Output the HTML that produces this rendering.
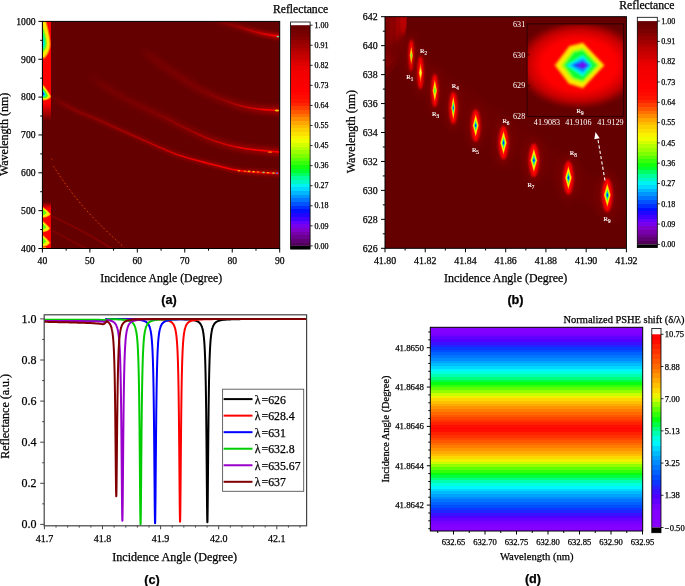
<!DOCTYPE html><html><head><meta charset="utf-8"><title>Figure</title><style>html,body{margin:0;padding:0;background:#fff;width:685px;height:586px;overflow:hidden;}svg{display:block;will-change:transform;}</style></head><body><svg width="685" height="586" viewBox="0 0 685 586"><defs><clipPath id="clipA"><rect x="42.40" y="21.40" width="237.30" height="227.10"/></clipPath><filter id="blur1" x="-50%" y="-50%" width="200%" height="200%"><feGaussianBlur stdDeviation="1"/></filter><filter id="blur2" x="-50%" y="-50%" width="200%" height="200%"><feGaussianBlur stdDeviation="2"/></filter><filter id="blur05" x="-50%" y="-50%" width="200%" height="200%"><feGaussianBlur stdDeviation="0.6"/></filter><filter id="blur15" x="-50%" y="-50%" width="200%" height="200%"><feGaussianBlur stdDeviation="1.5"/></filter><filter id="blur3" x="-50%" y="-50%" width="200%" height="200%"><feGaussianBlur stdDeviation="3"/></filter><linearGradient id="stripTop" x1="0" y1="0" x2="0" y2="1"><stop offset="0" stop-color="#ff0000"/><stop offset="0.82" stop-color="#ff0000"/><stop offset="1" stop-color="#650000"/></linearGradient><linearGradient id="stripBot" x1="0" y1="0" x2="0" y2="1"><stop offset="0" stop-color="#650000"/><stop offset="0.14" stop-color="#ff0000"/><stop offset="1" stop-color="#ff0000"/></linearGradient><linearGradient id="cg1" gradientUnits="userSpaceOnUse" x1="51.2" y1="0" x2="281.0" y2="0"><stop offset="0" stop-color="#900000" stop-opacity="0.0"/><stop offset="0.06" stop-color="#900000" stop-opacity="0.55"/><stop offset="0.5" stop-color="#a00000" stop-opacity="0.6"/><stop offset="1" stop-color="#c00000" stop-opacity="0.7"/></linearGradient><linearGradient id="cg2" gradientUnits="userSpaceOnUse" x1="51.2" y1="0" x2="281.0" y2="0"><stop offset="0" stop-color="#a00000" stop-opacity="0.0"/><stop offset="0.1" stop-color="#a00000" stop-opacity="0.35"/><stop offset="0.4" stop-color="#c00000" stop-opacity="0.8"/><stop offset="0.65" stop-color="#f00000" stop-opacity="1"/><stop offset="0.85" stop-color="#ff0000" stop-opacity="1"/><stop offset="1" stop-color="#ff0000" stop-opacity="1"/></linearGradient><linearGradient id="cg3" gradientUnits="userSpaceOnUse" x1="86.8" y1="0" x2="281.0" y2="0"><stop offset="0" stop-color="#800000" stop-opacity="0.0"/><stop offset="0.08" stop-color="#800000" stop-opacity="0.55"/><stop offset="0.5" stop-color="#900000" stop-opacity="0.6"/><stop offset="1" stop-color="#c00000" stop-opacity="0.7"/></linearGradient><linearGradient id="cg4" gradientUnits="userSpaceOnUse" x1="86.8" y1="0" x2="281.0" y2="0"><stop offset="0" stop-color="#800000" stop-opacity="0.0"/><stop offset="0.3" stop-color="#900000" stop-opacity="0.3"/><stop offset="0.6" stop-color="#c00000" stop-opacity="0.8"/><stop offset="0.85" stop-color="#ff0000" stop-opacity="1"/><stop offset="1" stop-color="#ff0000" stop-opacity="1"/></linearGradient><linearGradient id="cg5" gradientUnits="userSpaceOnUse" x1="140.0" y1="0" x2="281.0" y2="0"><stop offset="0" stop-color="#800000" stop-opacity="0.0"/><stop offset="0.08" stop-color="#800000" stop-opacity="0.6"/><stop offset="0.6" stop-color="#900000" stop-opacity="0.6"/><stop offset="1" stop-color="#c00000" stop-opacity="0.7"/></linearGradient><linearGradient id="cg6" gradientUnits="userSpaceOnUse" x1="140.0" y1="0" x2="281.0" y2="0"><stop offset="0" stop-color="#700000" stop-opacity="0.0"/><stop offset="0.45" stop-color="#900000" stop-opacity="0.3"/><stop offset="0.75" stop-color="#d00000" stop-opacity="0.9"/><stop offset="0.9" stop-color="#ff0000" stop-opacity="1"/><stop offset="1" stop-color="#ff0000" stop-opacity="1"/></linearGradient><linearGradient id="cg7" gradientUnits="userSpaceOnUse" x1="210.0" y1="0" x2="281.0" y2="0"><stop offset="0" stop-color="#800000" stop-opacity="0.0"/><stop offset="0.2" stop-color="#800000" stop-opacity="0.7"/><stop offset="0.6" stop-color="#a00000" stop-opacity="0.8"/><stop offset="1" stop-color="#c00000" stop-opacity="0.9"/></linearGradient><linearGradient id="cg8" gradientUnits="userSpaceOnUse" x1="210.0" y1="0" x2="281.0" y2="0"><stop offset="0" stop-color="#900000" stop-opacity="0.0"/><stop offset="0.35" stop-color="#a00000" stop-opacity="0.6"/><stop offset="0.75" stop-color="#d80000" stop-opacity="1"/><stop offset="1" stop-color="#ff0000" stop-opacity="1"/></linearGradient><linearGradient id="cbAB" x1="0" y1="0" x2="0" y2="1"><stop offset="0.0000" stop-color="#690000"/><stop offset="0.0175" stop-color="#690000"/><stop offset="0.0175" stop-color="#720000"/><stop offset="0.0350" stop-color="#720000"/><stop offset="0.0350" stop-color="#7b0000"/><stop offset="0.0525" stop-color="#7b0000"/><stop offset="0.0525" stop-color="#870000"/><stop offset="0.0675" stop-color="#870000"/><stop offset="0.0675" stop-color="#940000"/><stop offset="0.0850" stop-color="#940000"/><stop offset="0.0850" stop-color="#a10000"/><stop offset="0.1025" stop-color="#a10000"/><stop offset="0.1025" stop-color="#af0000"/><stop offset="0.1175" stop-color="#af0000"/><stop offset="0.1175" stop-color="#bc0000"/><stop offset="0.1350" stop-color="#bc0000"/><stop offset="0.1350" stop-color="#c70000"/><stop offset="0.1525" stop-color="#c70000"/><stop offset="0.1525" stop-color="#d30000"/><stop offset="0.1675" stop-color="#d30000"/><stop offset="0.1675" stop-color="#df0000"/><stop offset="0.1850" stop-color="#df0000"/><stop offset="0.1850" stop-color="#ea0000"/><stop offset="0.2025" stop-color="#ea0000"/><stop offset="0.2025" stop-color="#f10000"/><stop offset="0.2175" stop-color="#f10000"/><stop offset="0.2175" stop-color="#f40000"/><stop offset="0.2350" stop-color="#f40000"/><stop offset="0.2350" stop-color="#f60000"/><stop offset="0.2525" stop-color="#f60000"/><stop offset="0.2525" stop-color="#f90000"/><stop offset="0.2675" stop-color="#f90000"/><stop offset="0.2675" stop-color="#fb0000"/><stop offset="0.2850" stop-color="#fb0000"/><stop offset="0.2850" stop-color="#fe0000"/><stop offset="0.3025" stop-color="#fe0000"/><stop offset="0.3025" stop-color="#ff0400"/><stop offset="0.3175" stop-color="#ff0400"/><stop offset="0.3175" stop-color="#ff0c00"/><stop offset="0.3350" stop-color="#ff0c00"/><stop offset="0.3350" stop-color="#ff1400"/><stop offset="0.3525" stop-color="#ff1400"/><stop offset="0.3525" stop-color="#ff2500"/><stop offset="0.3675" stop-color="#ff2500"/><stop offset="0.3675" stop-color="#ff3e00"/><stop offset="0.3850" stop-color="#ff3e00"/><stop offset="0.3850" stop-color="#ff5700"/><stop offset="0.4025" stop-color="#ff5700"/><stop offset="0.4025" stop-color="#ff7100"/><stop offset="0.4175" stop-color="#ff7100"/><stop offset="0.4175" stop-color="#ff8c00"/><stop offset="0.4350" stop-color="#ff8c00"/><stop offset="0.4350" stop-color="#ffa700"/><stop offset="0.4525" stop-color="#ffa700"/><stop offset="0.4525" stop-color="#febd00"/><stop offset="0.4675" stop-color="#febd00"/><stop offset="0.4675" stop-color="#fccf00"/><stop offset="0.4850" stop-color="#fccf00"/><stop offset="0.4850" stop-color="#fbe100"/><stop offset="0.5025" stop-color="#fbe100"/><stop offset="0.5025" stop-color="#f9f300"/><stop offset="0.5175" stop-color="#f9f300"/><stop offset="0.5175" stop-color="#efff00"/><stop offset="0.5350" stop-color="#efff00"/><stop offset="0.5350" stop-color="#d3ff00"/><stop offset="0.5500" stop-color="#d3ff00"/><stop offset="0.5500" stop-color="#b6ff00"/><stop offset="0.5675" stop-color="#b6ff00"/><stop offset="0.5675" stop-color="#9aff00"/><stop offset="0.5850" stop-color="#9aff00"/><stop offset="0.5850" stop-color="#7cff00"/><stop offset="0.6025" stop-color="#7cff00"/><stop offset="0.6025" stop-color="#59ff05"/><stop offset="0.6175" stop-color="#59ff05"/><stop offset="0.6175" stop-color="#35ff09"/><stop offset="0.6350" stop-color="#35ff09"/><stop offset="0.6350" stop-color="#12ff0e"/><stop offset="0.6525" stop-color="#12ff0e"/><stop offset="0.6525" stop-color="#00ff2c"/><stop offset="0.6675" stop-color="#00ff2c"/><stop offset="0.6675" stop-color="#00ff65"/><stop offset="0.6850" stop-color="#00ff65"/><stop offset="0.6850" stop-color="#00fe9c"/><stop offset="0.7025" stop-color="#00fe9c"/><stop offset="0.7025" stop-color="#00f8c7"/><stop offset="0.7175" stop-color="#00f8c7"/><stop offset="0.7175" stop-color="#00f2f2"/><stop offset="0.7350" stop-color="#00f2f2"/><stop offset="0.7350" stop-color="#00d9ff"/><stop offset="0.7525" stop-color="#00d9ff"/><stop offset="0.7525" stop-color="#00b7ff"/><stop offset="0.7675" stop-color="#00b7ff"/><stop offset="0.7675" stop-color="#0096ff"/><stop offset="0.7850" stop-color="#0096ff"/><stop offset="0.7850" stop-color="#0075ff"/><stop offset="0.8000" stop-color="#0075ff"/><stop offset="0.8000" stop-color="#0053ff"/><stop offset="0.8175" stop-color="#0053ff"/><stop offset="0.8175" stop-color="#0030ff"/><stop offset="0.8350" stop-color="#0030ff"/><stop offset="0.8350" stop-color="#030fff"/><stop offset="0.8525" stop-color="#030fff"/><stop offset="0.8525" stop-color="#2006ff"/><stop offset="0.8675" stop-color="#2006ff"/><stop offset="0.8675" stop-color="#3f00ff"/><stop offset="0.8850" stop-color="#3f00ff"/><stop offset="0.8850" stop-color="#6200ff"/><stop offset="0.9000" stop-color="#6200ff"/><stop offset="0.9000" stop-color="#7700ed"/><stop offset="0.9175" stop-color="#7700ed"/><stop offset="0.9175" stop-color="#7e00ca"/><stop offset="0.9350" stop-color="#7e00ca"/><stop offset="0.9350" stop-color="#7800ac"/><stop offset="0.9525" stop-color="#7800ac"/><stop offset="0.9525" stop-color="#6c0090"/><stop offset="0.9675" stop-color="#6c0090"/><stop offset="0.9675" stop-color="#5f0074"/><stop offset="0.9850" stop-color="#5f0074"/><stop offset="0.9850" stop-color="#500058"/><stop offset="1.0000" stop-color="#500058"/></linearGradient><clipPath id="clipB"><rect x="385.00" y="16.70" width="241.40" height="231.60"/></clipPath><linearGradient id="ulg" gradientUnits="userSpaceOnUse" x1="385" y1="0" x2="406.5" y2="0"><stop offset="0" stop-color="#780000"/><stop offset="0.6" stop-color="#8a0000"/><stop offset="0.85" stop-color="#a80000"/><stop offset="1" stop-color="#c00000"/></linearGradient><clipPath id="clipI"><rect x="527.10" y="23.90" width="96.20" height="92.50"/></clipPath><radialGradient id="insetGlow" cx="0.5" cy="0.5" r="0.5"><stop offset="0" stop-color="#ff0000"/><stop offset="0.6" stop-color="#ff0000"/><stop offset="0.82" stop-color="#c80000"/><stop offset="1" stop-color="#6c0000"/></radialGradient><clipPath id="clipC"><rect x="44.20" y="314.80" width="262.40" height="211.00"/></clipPath><linearGradient id="gD" x1="0" y1="0" x2="0" y2="1"><stop offset="0.0000" stop-color="#8700ff"/><stop offset="0.0050" stop-color="#8700ff"/><stop offset="0.0050" stop-color="#8400ff"/><stop offset="0.0183" stop-color="#8400ff"/><stop offset="0.0183" stop-color="#8100ff"/><stop offset="0.0317" stop-color="#8100ff"/><stop offset="0.0317" stop-color="#7500ff"/><stop offset="0.0450" stop-color="#7500ff"/><stop offset="0.0450" stop-color="#6200ff"/><stop offset="0.0583" stop-color="#6200ff"/><stop offset="0.0583" stop-color="#4f00ff"/><stop offset="0.0717" stop-color="#4f00ff"/><stop offset="0.0717" stop-color="#3910ff"/><stop offset="0.0850" stop-color="#3910ff"/><stop offset="0.0850" stop-color="#2224ff"/><stop offset="0.0967" stop-color="#2224ff"/><stop offset="0.0967" stop-color="#0b37ff"/><stop offset="0.1100" stop-color="#0b37ff"/><stop offset="0.1100" stop-color="#004cff"/><stop offset="0.1233" stop-color="#004cff"/><stop offset="0.1233" stop-color="#0061ff"/><stop offset="0.1367" stop-color="#0061ff"/><stop offset="0.1367" stop-color="#0076ff"/><stop offset="0.1500" stop-color="#0076ff"/><stop offset="0.1500" stop-color="#008cff"/><stop offset="0.1633" stop-color="#008cff"/><stop offset="0.1633" stop-color="#00a4ff"/><stop offset="0.1767" stop-color="#00a4ff"/><stop offset="0.1767" stop-color="#00bcff"/><stop offset="0.1900" stop-color="#00bcff"/><stop offset="0.1900" stop-color="#00d7ff"/><stop offset="0.2033" stop-color="#00d7ff"/><stop offset="0.2033" stop-color="#00f6ff"/><stop offset="0.2167" stop-color="#00f6ff"/><stop offset="0.2167" stop-color="#00ffde"/><stop offset="0.2300" stop-color="#00ffde"/><stop offset="0.2300" stop-color="#00ffb0"/><stop offset="0.2433" stop-color="#00ffb0"/><stop offset="0.2433" stop-color="#00ff7c"/><stop offset="0.2567" stop-color="#00ff7c"/><stop offset="0.2567" stop-color="#00ff43"/><stop offset="0.2700" stop-color="#00ff43"/><stop offset="0.2700" stop-color="#05ff0f"/><stop offset="0.2817" stop-color="#05ff0f"/><stop offset="0.2817" stop-color="#32ff09"/><stop offset="0.2950" stop-color="#32ff09"/><stop offset="0.2950" stop-color="#5eff02"/><stop offset="0.3083" stop-color="#5eff02"/><stop offset="0.3083" stop-color="#92ff00"/><stop offset="0.3217" stop-color="#92ff00"/><stop offset="0.3217" stop-color="#cbff00"/><stop offset="0.3350" stop-color="#cbff00"/><stop offset="0.3350" stop-color="#eef200"/><stop offset="0.3483" stop-color="#eef200"/><stop offset="0.3483" stop-color="#fbd800"/><stop offset="0.3617" stop-color="#fbd800"/><stop offset="0.3617" stop-color="#ffc000"/><stop offset="0.3750" stop-color="#ffc000"/><stop offset="0.3750" stop-color="#ffaa00"/><stop offset="0.3883" stop-color="#ffaa00"/><stop offset="0.3883" stop-color="#ff9300"/><stop offset="0.4017" stop-color="#ff9300"/><stop offset="0.4017" stop-color="#ff7e00"/><stop offset="0.4150" stop-color="#ff7e00"/><stop offset="0.4150" stop-color="#ff6900"/><stop offset="0.4283" stop-color="#ff6900"/><stop offset="0.4283" stop-color="#ff5700"/><stop offset="0.4417" stop-color="#ff5700"/><stop offset="0.4417" stop-color="#ff4500"/><stop offset="0.4550" stop-color="#ff4500"/><stop offset="0.4550" stop-color="#ff3200"/><stop offset="0.4667" stop-color="#ff3200"/><stop offset="0.4667" stop-color="#ff2000"/><stop offset="0.4800" stop-color="#ff2000"/><stop offset="0.4800" stop-color="#ff0d00"/><stop offset="0.4933" stop-color="#ff0d00"/><stop offset="0.4933" stop-color="#ff0300"/><stop offset="0.5017" stop-color="#ff0300"/><stop offset="0.5017" stop-color="#ff0d00"/><stop offset="0.5150" stop-color="#ff0d00"/><stop offset="0.5150" stop-color="#ff2000"/><stop offset="0.5283" stop-color="#ff2000"/><stop offset="0.5283" stop-color="#ff3200"/><stop offset="0.5417" stop-color="#ff3200"/><stop offset="0.5417" stop-color="#ff4500"/><stop offset="0.5550" stop-color="#ff4500"/><stop offset="0.5550" stop-color="#ff5700"/><stop offset="0.5683" stop-color="#ff5700"/><stop offset="0.5683" stop-color="#ff6900"/><stop offset="0.5800" stop-color="#ff6900"/><stop offset="0.5800" stop-color="#ff7e00"/><stop offset="0.5933" stop-color="#ff7e00"/><stop offset="0.5933" stop-color="#ff9300"/><stop offset="0.6067" stop-color="#ff9300"/><stop offset="0.6067" stop-color="#ffaa00"/><stop offset="0.6200" stop-color="#ffaa00"/><stop offset="0.6200" stop-color="#ffc000"/><stop offset="0.6333" stop-color="#ffc000"/><stop offset="0.6333" stop-color="#fbd800"/><stop offset="0.6467" stop-color="#fbd800"/><stop offset="0.6467" stop-color="#eef200"/><stop offset="0.6600" stop-color="#eef200"/><stop offset="0.6600" stop-color="#cbff00"/><stop offset="0.6733" stop-color="#cbff00"/><stop offset="0.6733" stop-color="#92ff00"/><stop offset="0.6867" stop-color="#92ff00"/><stop offset="0.6867" stop-color="#5eff02"/><stop offset="0.7000" stop-color="#5eff02"/><stop offset="0.7000" stop-color="#32ff09"/><stop offset="0.7133" stop-color="#32ff09"/><stop offset="0.7133" stop-color="#05ff0f"/><stop offset="0.7267" stop-color="#05ff0f"/><stop offset="0.7267" stop-color="#00ff43"/><stop offset="0.7400" stop-color="#00ff43"/><stop offset="0.7400" stop-color="#00ff7c"/><stop offset="0.7517" stop-color="#00ff7c"/><stop offset="0.7517" stop-color="#00ffb0"/><stop offset="0.7650" stop-color="#00ffb0"/><stop offset="0.7650" stop-color="#00ffde"/><stop offset="0.7783" stop-color="#00ffde"/><stop offset="0.7783" stop-color="#00f6ff"/><stop offset="0.7917" stop-color="#00f6ff"/><stop offset="0.7917" stop-color="#00d7ff"/><stop offset="0.8050" stop-color="#00d7ff"/><stop offset="0.8050" stop-color="#00bcff"/><stop offset="0.8183" stop-color="#00bcff"/><stop offset="0.8183" stop-color="#00a4ff"/><stop offset="0.8317" stop-color="#00a4ff"/><stop offset="0.8317" stop-color="#008cff"/><stop offset="0.8450" stop-color="#008cff"/><stop offset="0.8450" stop-color="#0076ff"/><stop offset="0.8583" stop-color="#0076ff"/><stop offset="0.8583" stop-color="#0061ff"/><stop offset="0.8717" stop-color="#0061ff"/><stop offset="0.8717" stop-color="#004cff"/><stop offset="0.8850" stop-color="#004cff"/><stop offset="0.8850" stop-color="#0b37ff"/><stop offset="0.8983" stop-color="#0b37ff"/><stop offset="0.8983" stop-color="#2224ff"/><stop offset="0.9117" stop-color="#2224ff"/><stop offset="0.9117" stop-color="#3910ff"/><stop offset="0.9250" stop-color="#3910ff"/><stop offset="0.9250" stop-color="#4f00ff"/><stop offset="0.9367" stop-color="#4f00ff"/><stop offset="0.9367" stop-color="#6200ff"/><stop offset="0.9500" stop-color="#6200ff"/><stop offset="0.9500" stop-color="#7500ff"/><stop offset="0.9633" stop-color="#7500ff"/><stop offset="0.9633" stop-color="#8100ff"/><stop offset="0.9767" stop-color="#8100ff"/><stop offset="0.9767" stop-color="#8400ff"/><stop offset="0.9900" stop-color="#8400ff"/><stop offset="0.9900" stop-color="#8700ff"/><stop offset="1.0000" stop-color="#8700ff"/></linearGradient><linearGradient id="cbD" x1="0" y1="0" x2="0" y2="1"><stop offset="0.0000" stop-color="#ff0300"/><stop offset="0.0275" stop-color="#ff0300"/><stop offset="0.0275" stop-color="#ff0d00"/><stop offset="0.0525" stop-color="#ff0d00"/><stop offset="0.0525" stop-color="#ff2000"/><stop offset="0.0775" stop-color="#ff2000"/><stop offset="0.0775" stop-color="#ff3200"/><stop offset="0.1025" stop-color="#ff3200"/><stop offset="0.1025" stop-color="#ff4500"/><stop offset="0.1275" stop-color="#ff4500"/><stop offset="0.1275" stop-color="#ff5700"/><stop offset="0.1525" stop-color="#ff5700"/><stop offset="0.1525" stop-color="#ff6900"/><stop offset="0.1775" stop-color="#ff6900"/><stop offset="0.1775" stop-color="#ff7e00"/><stop offset="0.2025" stop-color="#ff7e00"/><stop offset="0.2025" stop-color="#ff9300"/><stop offset="0.2275" stop-color="#ff9300"/><stop offset="0.2275" stop-color="#ffaa00"/><stop offset="0.2525" stop-color="#ffaa00"/><stop offset="0.2525" stop-color="#ffc000"/><stop offset="0.2775" stop-color="#ffc000"/><stop offset="0.2775" stop-color="#fbd800"/><stop offset="0.3025" stop-color="#fbd800"/><stop offset="0.3025" stop-color="#eef200"/><stop offset="0.3275" stop-color="#eef200"/><stop offset="0.3275" stop-color="#cbff00"/><stop offset="0.3525" stop-color="#cbff00"/><stop offset="0.3525" stop-color="#92ff00"/><stop offset="0.3775" stop-color="#92ff00"/><stop offset="0.3775" stop-color="#5eff02"/><stop offset="0.4025" stop-color="#5eff02"/><stop offset="0.4025" stop-color="#32ff09"/><stop offset="0.4275" stop-color="#32ff09"/><stop offset="0.4275" stop-color="#05ff0f"/><stop offset="0.4525" stop-color="#05ff0f"/><stop offset="0.4525" stop-color="#00ff43"/><stop offset="0.4775" stop-color="#00ff43"/><stop offset="0.4775" stop-color="#00ff7c"/><stop offset="0.5025" stop-color="#00ff7c"/><stop offset="0.5025" stop-color="#00ffb0"/><stop offset="0.5275" stop-color="#00ffb0"/><stop offset="0.5275" stop-color="#00ffde"/><stop offset="0.5500" stop-color="#00ffde"/><stop offset="0.5500" stop-color="#00f6ff"/><stop offset="0.5775" stop-color="#00f6ff"/><stop offset="0.5775" stop-color="#00d7ff"/><stop offset="0.6025" stop-color="#00d7ff"/><stop offset="0.6025" stop-color="#00bcff"/><stop offset="0.6275" stop-color="#00bcff"/><stop offset="0.6275" stop-color="#00a4ff"/><stop offset="0.6525" stop-color="#00a4ff"/><stop offset="0.6525" stop-color="#008cff"/><stop offset="0.6750" stop-color="#008cff"/><stop offset="0.6750" stop-color="#0076ff"/><stop offset="0.7025" stop-color="#0076ff"/><stop offset="0.7025" stop-color="#0061ff"/><stop offset="0.7275" stop-color="#0061ff"/><stop offset="0.7275" stop-color="#004cff"/><stop offset="0.7525" stop-color="#004cff"/><stop offset="0.7525" stop-color="#0b37ff"/><stop offset="0.7775" stop-color="#0b37ff"/><stop offset="0.7775" stop-color="#2224ff"/><stop offset="0.8025" stop-color="#2224ff"/><stop offset="0.8025" stop-color="#3910ff"/><stop offset="0.8275" stop-color="#3910ff"/><stop offset="0.8275" stop-color="#4f00ff"/><stop offset="0.8525" stop-color="#4f00ff"/><stop offset="0.8525" stop-color="#6200ff"/><stop offset="0.8775" stop-color="#6200ff"/><stop offset="0.8775" stop-color="#7500ff"/><stop offset="0.9025" stop-color="#7500ff"/><stop offset="0.9025" stop-color="#8100ff"/><stop offset="0.9275" stop-color="#8100ff"/><stop offset="0.9275" stop-color="#8400ff"/><stop offset="0.9525" stop-color="#8400ff"/><stop offset="0.9525" stop-color="#8700ff"/><stop offset="0.9775" stop-color="#8700ff"/><stop offset="0.9775" stop-color="#8a00ff"/><stop offset="1.0000" stop-color="#8a00ff"/></linearGradient></defs><rect x="42.40" y="21.40" width="237.30" height="227.10" fill="#650000" stroke="none" stroke-width="1" />
<g clip-path="url(#clipA)">
<rect x="42.40" y="21.40" width="8.60" height="99.60" fill="url(#stripTop)" stroke="none" stroke-width="1" />
<rect x="42.40" y="202.00" width="8.60" height="46.50" fill="url(#stripBot)" stroke="none" stroke-width="1" />
<g filter="url(#blur05)">
<path d="M42.4,19 L46,19 C47.6,26 50.6,36 50.6,44 C50.6,50 48,55.5 44.8,58.5 L42.4,58.5 Z" fill="#ff7a00"/>
<path d="M42.4,19 L44.9,19 C46.6,27 49.5,37 49.5,44 C49.5,49 47.2,54 44.2,57 L42.4,57 Z" fill="#ffe800"/>
<path d="M42.4,25 C44.4,31 46.8,38 46.8,43.5 C46.8,47 45.3,50.5 42.4,53 Z" fill="#60ff20"/>
<path d="M42.4,31 C43.8,35 45.3,39.5 45.3,43.5 C45.3,46 44.2,48.5 42.4,50 Z" fill="#00ff90"/>
<path d="M42.4,36 C43.3,39 44.1,41.5 44.1,43.5 C44.1,45.5 43.4,47 42.4,48 Z" fill="#00d8ff"/>
<path d="M42.4,83.8 C45,86.8 49,91.8 51.2,96.6 C50.2,99.2 47,100.6 42.4,100.6 Z" fill="#ff8000"/>
<path d="M42.4,85.3 C45,88 48.5,92.5 50.2,96.4 C49.3,98.4 46.5,99.5 42.4,99.5 Z" fill="#ffee00"/>
<path d="M42.4,87.2 C44.6,89.8 47,93 48,95.9 C47.2,97.4 45,98.2 42.4,98.2 Z" fill="#40ff20"/>
<path d="M42.4,89.2 C44,91.3 45.4,93.3 45.9,95.3 C45.2,96.4 43.9,96.8 42.4,96.8 Z" fill="#00ffe0"/>
<path d="M42.4,90.8 C43.5,92.2 44.4,93.6 44.7,95 C44,95.6 43.2,95.8 42.4,95.8 Z" fill="#0050ff"/>
<path d="M42.4,206.4 C45,208.6 48.9,211.2 50.8,214.2 C48.9,216.9 45,217.9 42.4,217.9 Z" fill="#ff8a00"/>
<path d="M42.4,207.6 C45,209.6 48.4,211.7 49.9,214.2 C48.4,216.4 45,216.9 42.4,216.9 Z" fill="#ffee00"/>
<path d="M42.4,208.79999999999998 C44,210.1 45.525,211.7 46.525,212.7 C45.525,214.7 44,215.2 42.4,215.39999999999998 Z" fill="#60ff10"/>
<path d="M42.4,220.60000000000002 C45,222.8 48.4,225.6 50.3,228.6 C48.4,231.4 45,232.4 42.4,232.4 Z" fill="#ff8a00"/>
<path d="M42.4,221.8 C45,223.8 47.9,226.1 49.4,228.6 C47.9,230.9 45,231.4 42.4,231.4 Z" fill="#ffee00"/>
<path d="M42.4,223.0 C44,224.3 45.25,226.1 46.25,227.1 C45.25,229.1 44,229.6 42.4,229.79999999999998 Z" fill="#60ff10"/>
<path d="M42.4,234.60000000000002 C45,236.8 48.4,239.8 50.3,242.8 C48.4,245.8 45,246.8 42.4,246.8 Z" fill="#ff8a00"/>
<path d="M42.4,235.8 C45,237.8 47.9,240.3 49.4,242.8 C47.9,245.3 45,245.8 42.4,245.8 Z" fill="#ffee00"/>
<path d="M42.4,237.0 C44,238.3 45.25,240.3 46.25,241.3 C45.25,243.3 44,243.8 42.4,244.0 Z" fill="#60ff10"/>
</g>
<ellipse cx="43.5" cy="248.5" rx="3" ry="2" fill="#ff9000" filter="url(#blur05)"/>
<path d="M51.2,97.0 L52.5,97.7 L54.2,98.7 L56.2,99.9 L58.4,101.1 L60.8,102.5 L63.4,104.0 L66.0,105.4 L68.5,106.8 L71.0,108.1 L73.4,109.3 L75.7,110.4 L78.0,111.4 L80.3,112.4 L82.6,113.4 L85.0,114.4 L87.3,115.3 L89.7,116.3 L92.0,117.2 L94.4,118.2 L96.7,119.2 L99.0,120.2 L101.4,121.3 L103.8,122.3 L106.1,123.4 L108.5,124.5 L110.8,125.6 L113.2,126.6 L115.5,127.7 L117.8,128.7 L120.0,129.7 L122.2,130.7 L124.4,131.6 L126.5,132.6 L128.7,133.5 L130.8,134.5 L132.9,135.4 L134.9,136.3 L137.0,137.2 L139.0,138.1 L141.0,139.0 L143.0,139.9 L144.9,140.8 L146.8,141.6 L148.7,142.5 L150.6,143.3 L152.4,144.2 L154.3,145.0 L156.2,145.8 L158.1,146.7 L160.0,147.5 L161.9,148.3 L163.8,149.1 L165.6,149.9 L167.4,150.7 L169.3,151.5 L171.2,152.3 L173.2,153.1 L175.3,153.9 L177.6,154.7 L180.0,155.5 L182.6,156.3 L185.5,157.2 L188.4,158.1 L191.5,158.9 L194.7,159.8 L197.9,160.7 L201.2,161.6 L204.4,162.4 L207.6,163.2 L210.7,164.0 L213.7,164.8 L216.7,165.5 L219.6,166.3 L222.5,167.1 L225.4,167.8 L228.4,168.5 L231.5,169.2 L234.6,169.8 L237.9,170.4 L241.3,170.9 L245.1,171.4 L249.3,171.8 L253.8,172.1 L258.4,172.4 L263.1,172.7 L267.5,172.9 L271.7,173.1 L275.5,173.3 L278.6,173.5 L281.0,173.6" fill="none" stroke="url(#cg1)" stroke-width="5" stroke-linecap="round" stroke-linejoin="round" opacity="1" filter="url(#blur15)"/>
<path d="M51.2,97.0 L52.5,97.7 L54.2,98.7 L56.2,99.9 L58.4,101.1 L60.8,102.5 L63.4,104.0 L66.0,105.4 L68.5,106.8 L71.0,108.1 L73.4,109.3 L75.7,110.4 L78.0,111.4 L80.3,112.4 L82.6,113.4 L85.0,114.4 L87.3,115.3 L89.7,116.3 L92.0,117.2 L94.4,118.2 L96.7,119.2 L99.0,120.2 L101.4,121.3 L103.8,122.3 L106.1,123.4 L108.5,124.5 L110.8,125.6 L113.2,126.6 L115.5,127.7 L117.8,128.7 L120.0,129.7 L122.2,130.7 L124.4,131.6 L126.5,132.6 L128.7,133.5 L130.8,134.5 L132.9,135.4 L134.9,136.3 L137.0,137.2 L139.0,138.1 L141.0,139.0 L143.0,139.9 L144.9,140.8 L146.8,141.6 L148.7,142.5 L150.6,143.3 L152.4,144.2 L154.3,145.0 L156.2,145.8 L158.1,146.7 L160.0,147.5 L161.9,148.3 L163.8,149.1 L165.6,149.9 L167.4,150.7 L169.3,151.5 L171.2,152.3 L173.2,153.1 L175.3,153.9 L177.6,154.7 L180.0,155.5 L182.6,156.3 L185.5,157.2 L188.4,158.1 L191.5,158.9 L194.7,159.8 L197.9,160.7 L201.2,161.6 L204.4,162.4 L207.6,163.2 L210.7,164.0 L213.7,164.8 L216.7,165.5 L219.6,166.3 L222.5,167.1 L225.4,167.8 L228.4,168.5 L231.5,169.2 L234.6,169.8 L237.9,170.4 L241.3,170.9 L245.1,171.4 L249.3,171.8 L253.8,172.1 L258.4,172.4 L263.1,172.7 L267.5,172.9 L271.7,173.1 L275.5,173.3 L278.6,173.5 L281.0,173.6" fill="none" stroke="url(#cg2)" stroke-width="1.6" stroke-linecap="round" stroke-linejoin="round" opacity="1" filter="url(#blur05)"/>
<path d="M86.8,74.6 L88.2,75.5 L90.1,76.8 L92.2,78.2 L94.7,79.8 L97.3,81.6 L100.1,83.4 L102.9,85.3 L105.8,87.1 L108.6,88.9 L111.3,90.6 L113.8,92.1 L116.2,93.5 L118.6,94.8 L120.9,96.1 L123.2,97.4 L125.5,98.6 L127.8,99.8 L130.2,101.1 L132.6,102.3 L135.0,103.5 L137.5,104.7 L140.0,106.0 L142.7,107.3 L145.6,108.7 L148.6,110.2 L151.7,111.6 L154.9,113.1 L157.9,114.5 L160.9,115.9 L163.7,117.2 L166.4,118.4 L168.7,119.5 L170.7,120.5 L172.3,121.3 L173.4,121.9 L174.2,122.3 L174.8,122.6 L175.2,122.9 L175.5,123.2 L175.9,123.4 L176.5,123.7 L177.3,124.2 L178.4,124.7 L180.0,125.5 L182.0,126.5 L184.3,127.6 L186.8,128.8 L189.6,130.2 L192.5,131.6 L195.5,133.0 L198.6,134.4 L201.8,135.8 L204.8,137.2 L207.8,138.4 L210.7,139.5 L213.5,140.5 L216.1,141.4 L218.8,142.3 L221.5,143.1 L224.1,143.9 L226.8,144.7 L229.5,145.4 L232.3,146.0 L235.2,146.7 L238.2,147.3 L241.3,147.9 L244.7,148.5 L248.5,149.0 L252.5,149.5 L256.7,150.0 L261.0,150.4 L265.1,150.8 L269.1,151.2 L272.8,151.5 L276.1,151.8 L278.8,152.1 L281.0,152.3" fill="none" stroke="url(#cg3)" stroke-width="7" stroke-linecap="round" stroke-linejoin="round" opacity="1" filter="url(#blur2)"/>
<path d="M86.8,74.6 L88.2,75.5 L90.1,76.8 L92.2,78.2 L94.7,79.8 L97.3,81.6 L100.1,83.4 L102.9,85.3 L105.8,87.1 L108.6,88.9 L111.3,90.6 L113.8,92.1 L116.2,93.5 L118.6,94.8 L120.9,96.1 L123.2,97.4 L125.5,98.6 L127.8,99.8 L130.2,101.1 L132.6,102.3 L135.0,103.5 L137.5,104.7 L140.0,106.0 L142.7,107.3 L145.6,108.7 L148.6,110.2 L151.7,111.6 L154.9,113.1 L157.9,114.5 L160.9,115.9 L163.7,117.2 L166.4,118.4 L168.7,119.5 L170.7,120.5 L172.3,121.3 L173.4,121.9 L174.2,122.3 L174.8,122.6 L175.2,122.9 L175.5,123.2 L175.9,123.4 L176.5,123.7 L177.3,124.2 L178.4,124.7 L180.0,125.5 L182.0,126.5 L184.3,127.6 L186.8,128.8 L189.6,130.2 L192.5,131.6 L195.5,133.0 L198.6,134.4 L201.8,135.8 L204.8,137.2 L207.8,138.4 L210.7,139.5 L213.5,140.5 L216.1,141.4 L218.8,142.3 L221.5,143.1 L224.1,143.9 L226.8,144.7 L229.5,145.4 L232.3,146.0 L235.2,146.7 L238.2,147.3 L241.3,147.9 L244.7,148.5 L248.5,149.0 L252.5,149.5 L256.7,150.0 L261.0,150.4 L265.1,150.8 L269.1,151.2 L272.8,151.5 L276.1,151.8 L278.8,152.1 L281.0,152.3" fill="none" stroke="url(#cg4)" stroke-width="1.6" stroke-linecap="round" stroke-linejoin="round" opacity="1" filter="url(#blur05)"/>
<path d="M140.0,49.5 L141.2,50.4 L142.8,51.5 L144.6,52.7 L146.5,54.1 L148.7,55.7 L151.0,57.3 L153.5,59.1 L156.0,60.8 L158.5,62.6 L161.1,64.4 L163.6,66.2 L166.1,67.9 L168.4,69.5 L170.7,71.0 L172.9,72.4 L175.0,73.9 L177.2,75.3 L179.3,76.8 L181.5,78.2 L183.6,79.6 L185.8,81.0 L187.9,82.4 L190.1,83.7 L192.2,85.0 L194.4,86.3 L196.6,87.6 L198.8,88.8 L201.0,90.0 L203.3,91.2 L205.6,92.3 L207.9,93.4 L210.3,94.5 L212.6,95.6 L215.0,96.6 L217.4,97.6 L219.8,98.6 L222.1,99.5 L224.4,100.4 L226.7,101.2 L228.9,102.0 L231.0,102.8 L233.0,103.5 L234.9,104.1 L236.8,104.7 L238.6,105.2 L240.3,105.7 L242.0,106.1 L243.7,106.5 L245.3,106.9 L246.9,107.2 L248.5,107.5 L250.0,107.8 L251.6,108.0 L253.3,108.3 L254.9,108.5 L256.6,108.8 L258.4,109.0 L260.3,109.3 L262.2,109.4 L264.2,109.6 L266.3,109.8 L268.3,109.9 L270.3,110.0 L272.2,110.1 L274.1,110.2 L275.8,110.3 L277.4,110.4 L278.8,110.5 L280.0,110.5 L281.0,110.6" fill="none" stroke="url(#cg5)" stroke-width="8" stroke-linecap="round" stroke-linejoin="round" opacity="1" filter="url(#blur2)"/>
<path d="M140.0,49.5 L141.2,50.4 L142.8,51.5 L144.6,52.7 L146.5,54.1 L148.7,55.7 L151.0,57.3 L153.5,59.1 L156.0,60.8 L158.5,62.6 L161.1,64.4 L163.6,66.2 L166.1,67.9 L168.4,69.5 L170.7,71.0 L172.9,72.4 L175.0,73.9 L177.2,75.3 L179.3,76.8 L181.5,78.2 L183.6,79.6 L185.8,81.0 L187.9,82.4 L190.1,83.7 L192.2,85.0 L194.4,86.3 L196.6,87.6 L198.8,88.8 L201.0,90.0 L203.3,91.2 L205.6,92.3 L207.9,93.4 L210.3,94.5 L212.6,95.6 L215.0,96.6 L217.4,97.6 L219.8,98.6 L222.1,99.5 L224.4,100.4 L226.7,101.2 L228.9,102.0 L231.0,102.8 L233.0,103.5 L234.9,104.1 L236.8,104.7 L238.6,105.2 L240.3,105.7 L242.0,106.1 L243.7,106.5 L245.3,106.9 L246.9,107.2 L248.5,107.5 L250.0,107.8 L251.6,108.0 L253.3,108.3 L254.9,108.5 L256.6,108.8 L258.4,109.0 L260.3,109.3 L262.2,109.4 L264.2,109.6 L266.3,109.8 L268.3,109.9 L270.3,110.0 L272.2,110.1 L274.1,110.2 L275.8,110.3 L277.4,110.4 L278.8,110.5 L280.0,110.5 L281.0,110.6" fill="none" stroke="url(#cg6)" stroke-width="1.6" stroke-linecap="round" stroke-linejoin="round" opacity="1" filter="url(#blur05)"/>
<path d="M210.0,20.0 L210.8,20.2 L211.7,20.4 L212.7,20.6 L213.9,20.9 L215.2,21.1 L216.6,21.4 L218.0,21.7 L219.5,22.1 L221.0,22.4 L222.6,22.8 L224.2,23.1 L225.8,23.5 L227.3,23.8 L228.8,24.2 L230.2,24.6 L231.6,24.9 L232.9,25.3 L234.3,25.6 L235.6,26.0 L237.0,26.4 L238.4,26.8 L239.8,27.2 L241.1,27.6 L242.5,28.0 L243.8,28.5 L245.1,28.9 L246.4,29.3 L247.7,29.6 L248.9,30.0 L250.1,30.4 L251.3,30.7 L252.4,31.0 L253.5,31.3 L254.5,31.6 L255.4,31.8 L256.3,32.1 L257.2,32.3 L258.1,32.5 L258.9,32.7 L259.7,32.9 L260.5,33.1 L261.3,33.3 L262.1,33.5 L262.9,33.7 L263.7,33.9 L264.6,34.1 L265.4,34.2 L266.3,34.4 L267.2,34.6 L268.2,34.7 L269.2,34.9 L270.3,35.1 L271.3,35.2 L272.4,35.4 L273.5,35.6 L274.5,35.7 L275.5,35.9 L276.5,36.0 L277.5,36.1 L278.3,36.2 L279.1,36.3 L279.9,36.4 L280.5,36.5 L281.0,36.6" fill="none" stroke="url(#cg7)" stroke-width="6" stroke-linecap="round" stroke-linejoin="round" opacity="1" filter="url(#blur15)"/>
<path d="M210.0,20.0 L210.8,20.2 L211.7,20.4 L212.7,20.6 L213.9,20.9 L215.2,21.1 L216.6,21.4 L218.0,21.7 L219.5,22.1 L221.0,22.4 L222.6,22.8 L224.2,23.1 L225.8,23.5 L227.3,23.8 L228.8,24.2 L230.2,24.6 L231.6,24.9 L232.9,25.3 L234.3,25.6 L235.6,26.0 L237.0,26.4 L238.4,26.8 L239.8,27.2 L241.1,27.6 L242.5,28.0 L243.8,28.5 L245.1,28.9 L246.4,29.3 L247.7,29.6 L248.9,30.0 L250.1,30.4 L251.3,30.7 L252.4,31.0 L253.5,31.3 L254.5,31.6 L255.4,31.8 L256.3,32.1 L257.2,32.3 L258.1,32.5 L258.9,32.7 L259.7,32.9 L260.5,33.1 L261.3,33.3 L262.1,33.5 L262.9,33.7 L263.7,33.9 L264.6,34.1 L265.4,34.2 L266.3,34.4 L267.2,34.6 L268.2,34.7 L269.2,34.9 L270.3,35.1 L271.3,35.2 L272.4,35.4 L273.5,35.6 L274.5,35.7 L275.5,35.9 L276.5,36.0 L277.5,36.1 L278.3,36.2 L279.1,36.3 L279.9,36.4 L280.5,36.5 L281.0,36.6" fill="none" stroke="url(#cg8)" stroke-width="1.8" stroke-linecap="round" stroke-linejoin="round" opacity="1" filter="url(#blur05)"/>
<path d="M51.0,215.7 L51.7,216.0 L52.4,216.4 L53.2,216.8 L54.1,217.2 L55.1,217.7 L56.1,218.2 L57.2,218.7 L58.4,219.3 L59.6,219.8 L60.9,220.4 L62.2,221.1 L63.5,221.7 L64.9,222.3 L66.2,223.0 L67.6,223.7 L69.0,224.4 L70.4,225.1 L71.9,225.8 L73.3,226.5 L74.7,227.2 L76.0,227.9 L77.4,228.6 L78.7,229.3 L80.0,230.0 L81.3,230.7 L82.7,231.5 L84.1,232.2 L85.5,233.1 L87.0,233.9 L88.5,234.8 L90.1,235.6 L91.6,236.5 L93.2,237.4 L94.7,238.3 L96.3,239.2 L97.8,240.1 L99.3,241.0 L100.8,241.9 L102.2,242.7 L103.6,243.5 L104.9,244.3 L106.2,245.1 L107.4,245.8 L108.5,246.4 L109.5,247.0 L110.4,247.6 L111.3,248.1 L112.0,248.5" fill="none" stroke="#900000" stroke-width="1.8" stroke-linecap="round" stroke-linejoin="round" opacity="0.7" filter="url(#blur05)"/>
<path d="M51.0,229.7 L51.4,229.9 L51.9,230.2 L52.5,230.5 L53.1,230.8 L53.8,231.2 L54.5,231.6 L55.2,232.0 L56.0,232.4 L56.9,232.9 L57.7,233.4 L58.6,233.8 L59.5,234.3 L60.4,234.8 L61.3,235.3 L62.3,235.8 L63.2,236.3 L64.1,236.8 L65.0,237.3 L65.9,237.8 L66.8,238.3 L67.6,238.7 L68.5,239.2 L69.2,239.6 L70.0,240.0 L70.7,240.4 L71.5,240.8 L72.3,241.2 L73.0,241.6 L73.8,242.0 L74.6,242.5 L75.4,242.9 L76.1,243.3 L76.9,243.7 L77.7,244.1 L78.4,244.5 L79.2,244.9 L79.9,245.3 L80.6,245.7 L81.3,246.0 L82.0,246.4 L82.6,246.7 L83.2,247.0 L83.8,247.3 L84.3,247.6 L84.8,247.9 L85.2,248.1 L85.6,248.3 L86.0,248.5" fill="none" stroke="#900000" stroke-width="1.8" stroke-linecap="round" stroke-linejoin="round" opacity="0.55" filter="url(#blur05)"/>
<path d="M53.6,166.5 L54.1,167.2 L54.7,168.1 L55.4,169.1 L56.1,170.2 L56.9,171.5 L57.8,172.8 L58.7,174.2 L59.7,175.6 L60.7,177.1 L61.7,178.6 L62.8,180.2 L63.8,181.7 L64.9,183.2 L65.9,184.7 L67.0,186.1 L68.0,187.5 L69.0,188.9 L70.1,190.2 L71.1,191.6 L72.2,193.0 L73.3,194.4 L74.4,195.8 L75.5,197.2 L76.6,198.6 L77.7,200.0 L78.9,201.4 L80.0,202.8 L81.2,204.2 L82.3,205.6 L83.5,206.9 L84.6,208.3 L85.8,209.6 L87.0,210.9 L88.1,212.2 L89.3,213.5 L90.5,214.8 L91.7,216.0 L92.9,217.3 L94.1,218.5 L95.3,219.8 L96.5,221.0 L97.7,222.3 L98.9,223.5 L100.2,224.7 L101.4,225.9 L102.6,227.1 L103.8,228.3 L105.0,229.5 L106.2,230.7 L107.5,232.0 L108.9,233.3 L110.3,234.6 L111.7,236.0 L113.1,237.3 L114.5,238.6 L115.8,239.9 L117.2,241.1 L118.5,242.3 L119.7,243.5 L120.8,244.5 L121.9,245.5 L122.8,246.4 L123.6,247.2 L124.3,247.8" fill="none" stroke="#ff2000" stroke-width="0.7" stroke-linecap="round" stroke-linejoin="round" opacity="0.3"/>
<circle cx="51.8" cy="159" r="0.6" fill="#ff4000" opacity="0.8"/>
<path d="M53.6,166.5 L54.1,167.2 L54.7,168.1 L55.4,169.1 L56.1,170.2 L56.9,171.5 L57.8,172.8 L58.7,174.2 L59.7,175.6 L60.7,177.1 L61.7,178.6 L62.8,180.2 L63.8,181.7 L64.9,183.2 L65.9,184.7 L67.0,186.1 L68.0,187.5 L69.0,188.9 L70.1,190.2 L71.1,191.6 L72.2,193.0 L73.3,194.4 L74.4,195.8 L75.5,197.2 L76.6,198.6 L77.7,200.0 L78.9,201.4 L80.0,202.8 L81.2,204.2 L82.3,205.6 L83.5,206.9 L84.6,208.3 L85.8,209.6 L87.0,210.9 L88.1,212.2 L89.3,213.5 L90.5,214.8 L91.7,216.0 L92.9,217.3 L94.1,218.5 L95.3,219.8 L96.5,221.0 L97.7,222.3 L98.9,223.5 L100.2,224.7 L101.4,225.9 L102.6,227.1 L103.8,228.3 L105.0,229.5 L106.2,230.7 L107.5,232.0 L108.9,233.3 L110.3,234.6 L111.7,236.0 L113.1,237.3 L114.5,238.6 L115.8,239.9 L117.2,241.1 L118.5,242.3 L119.7,243.5 L120.8,244.5 L121.9,245.5 L122.8,246.4 L123.6,247.2 L124.3,247.8" fill="none" stroke="#ff9000" stroke-width="1.0" stroke-dasharray="0.9 3.1" opacity="0.75"/>
<ellipse cx="238.9" cy="170.7" rx="1.4" ry="0.8" fill="#ffb000" opacity="0.85"/>
<ellipse cx="245.0" cy="171.2" rx="1.4" ry="0.8" fill="#ff8000" opacity="0.85"/>
<ellipse cx="249.0" cy="171.4" rx="1.4" ry="0.8" fill="#ffd000" opacity="0.85"/>
<ellipse cx="253.6" cy="171.7" rx="1.4" ry="0.8" fill="#ffe000" opacity="0.85"/>
<ellipse cx="258.0" cy="172.0" rx="1.4" ry="0.8" fill="#ff9000" opacity="0.85"/>
<ellipse cx="263.5" cy="172.4" rx="1.4" ry="0.8" fill="#80e060" opacity="0.85"/>
<ellipse cx="268.0" cy="172.7" rx="1.4" ry="0.8" fill="#ffc000" opacity="0.85"/>
<ellipse cx="273.5" cy="173.1" rx="1.4" ry="0.8" fill="#c0e040" opacity="0.85"/>
<ellipse cx="277.0" cy="173.3" rx="1.4" ry="0.8" fill="#4080ff" opacity="0.85"/>
<ellipse cx="270" cy="152.2" rx="2.2" ry="0.9" fill="#ff7000" opacity="0.8"/>
<ellipse cx="277" cy="110.6" rx="2.2" ry="1.0" fill="#e0c000"/>
<ellipse cx="278" cy="36.6" rx="1.6" ry="0.8" fill="#60d0a0"/>
</g>
<rect x="42.40" y="21.40" width="237.30" height="227.10" fill="none" stroke="#000" stroke-width="1" />
<line x1="42.40" y1="248.50" x2="42.40" y2="252.50" stroke="#000" stroke-width="1" />
<line x1="66.13" y1="248.50" x2="66.13" y2="250.70" stroke="#000" stroke-width="1" />
<line x1="89.86" y1="248.50" x2="89.86" y2="252.50" stroke="#000" stroke-width="1" />
<line x1="113.59" y1="248.50" x2="113.59" y2="250.70" stroke="#000" stroke-width="1" />
<line x1="137.32" y1="248.50" x2="137.32" y2="252.50" stroke="#000" stroke-width="1" />
<line x1="161.05" y1="248.50" x2="161.05" y2="250.70" stroke="#000" stroke-width="1" />
<line x1="184.78" y1="248.50" x2="184.78" y2="252.50" stroke="#000" stroke-width="1" />
<line x1="208.51" y1="248.50" x2="208.51" y2="250.70" stroke="#000" stroke-width="1" />
<line x1="232.24" y1="248.50" x2="232.24" y2="252.50" stroke="#000" stroke-width="1" />
<line x1="255.97" y1="248.50" x2="255.97" y2="250.70" stroke="#000" stroke-width="1" />
<line x1="279.70" y1="248.50" x2="279.70" y2="252.50" stroke="#000" stroke-width="1" />
<line x1="38.40" y1="248.50" x2="42.40" y2="248.50" stroke="#000" stroke-width="1" />
<line x1="40.20" y1="229.57" x2="42.40" y2="229.57" stroke="#000" stroke-width="1" />
<line x1="38.40" y1="210.65" x2="42.40" y2="210.65" stroke="#000" stroke-width="1" />
<line x1="40.20" y1="191.72" x2="42.40" y2="191.72" stroke="#000" stroke-width="1" />
<line x1="38.40" y1="172.80" x2="42.40" y2="172.80" stroke="#000" stroke-width="1" />
<line x1="40.20" y1="153.88" x2="42.40" y2="153.88" stroke="#000" stroke-width="1" />
<line x1="38.40" y1="134.95" x2="42.40" y2="134.95" stroke="#000" stroke-width="1" />
<line x1="40.20" y1="116.03" x2="42.40" y2="116.03" stroke="#000" stroke-width="1" />
<line x1="38.40" y1="97.10" x2="42.40" y2="97.10" stroke="#000" stroke-width="1" />
<line x1="40.20" y1="78.17" x2="42.40" y2="78.17" stroke="#000" stroke-width="1" />
<line x1="38.40" y1="59.25" x2="42.40" y2="59.25" stroke="#000" stroke-width="1" />
<line x1="40.20" y1="40.32" x2="42.40" y2="40.32" stroke="#000" stroke-width="1" />
<line x1="38.40" y1="21.40" x2="42.40" y2="21.40" stroke="#000" stroke-width="1" />
<text x="42.40" y="263.80" font-family='"Liberation Serif", serif' font-size="9.6" font-weight="normal" text-anchor="middle" fill="#000" stroke="#000" stroke-width="0.25" >40</text>
<text x="89.86" y="263.80" font-family='"Liberation Serif", serif' font-size="9.6" font-weight="normal" text-anchor="middle" fill="#000" stroke="#000" stroke-width="0.25" >50</text>
<text x="137.32" y="263.80" font-family='"Liberation Serif", serif' font-size="9.6" font-weight="normal" text-anchor="middle" fill="#000" stroke="#000" stroke-width="0.25" >60</text>
<text x="184.78" y="263.80" font-family='"Liberation Serif", serif' font-size="9.6" font-weight="normal" text-anchor="middle" fill="#000" stroke="#000" stroke-width="0.25" >70</text>
<text x="232.24" y="263.80" font-family='"Liberation Serif", serif' font-size="9.6" font-weight="normal" text-anchor="middle" fill="#000" stroke="#000" stroke-width="0.25" >80</text>
<text x="279.70" y="263.80" font-family='"Liberation Serif", serif' font-size="9.6" font-weight="normal" text-anchor="middle" fill="#000" stroke="#000" stroke-width="0.25" >90</text>
<text x="35.50" y="251.80" font-family='"Liberation Serif", serif' font-size="9.6" font-weight="normal" text-anchor="end" fill="#000" stroke="#000" stroke-width="0.25" >400</text>
<text x="35.50" y="213.95" font-family='"Liberation Serif", serif' font-size="9.6" font-weight="normal" text-anchor="end" fill="#000" stroke="#000" stroke-width="0.25" >500</text>
<text x="35.50" y="176.10" font-family='"Liberation Serif", serif' font-size="9.6" font-weight="normal" text-anchor="end" fill="#000" stroke="#000" stroke-width="0.25" >600</text>
<text x="35.50" y="138.25" font-family='"Liberation Serif", serif' font-size="9.6" font-weight="normal" text-anchor="end" fill="#000" stroke="#000" stroke-width="0.25" >700</text>
<text x="35.50" y="100.40" font-family='"Liberation Serif", serif' font-size="9.6" font-weight="normal" text-anchor="end" fill="#000" stroke="#000" stroke-width="0.25" >800</text>
<text x="35.50" y="62.55" font-family='"Liberation Serif", serif' font-size="9.6" font-weight="normal" text-anchor="end" fill="#000" stroke="#000" stroke-width="0.25" >900</text>
<text x="35.50" y="24.70" font-family='"Liberation Serif", serif' font-size="9.6" font-weight="normal" text-anchor="end" fill="#000" stroke="#000" stroke-width="0.25" >1000</text>
<text x="161.20" y="282.30" font-family='"Liberation Serif", serif' font-size="11.8" font-weight="normal" text-anchor="middle" fill="#000" stroke="#000" stroke-width="0.25" >Incidence Angle (Degree)</text>
<text x="0.00" y="0.00" font-family='"Liberation Serif", serif' font-size="12" font-weight="normal" text-anchor="middle" fill="#000" stroke="#000" stroke-width="0.25" transform="translate(8.4,134.4) rotate(-90)">Wavelength (nm)</text>
<text x="169.00" y="304.20" font-family='"Liberation Sans", sans-serif' font-size="12.7" font-weight="bold" text-anchor="middle" fill="#000" stroke="#000" stroke-width="0.25" >(a)</text>
<rect x="290.60" y="22.00" width="19.50" height="3.20" fill="#fff" stroke="none" stroke-width="1" />
<rect x="290.60" y="25.20" width="19.50" height="220.70" fill="url(#cbAB)" stroke="none" stroke-width="1" />
<rect x="290.60" y="245.90" width="19.50" height="3.20" fill="#000" stroke="none" stroke-width="1" />
<rect x="290.60" y="22.00" width="19.50" height="227.10" fill="none" stroke="#000" stroke-width="0.8" />
<line x1="310.10" y1="25.20" x2="312.60" y2="25.20" stroke="#000" stroke-width="0.8" />
<text x="314.60" y="27.90" font-family='"Liberation Serif", serif' font-size="8.0" font-weight="normal" text-anchor="start" fill="#000" stroke="#000" stroke-width="0.25" >1.00</text>
<line x1="310.10" y1="45.26" x2="312.60" y2="45.26" stroke="#000" stroke-width="0.8" />
<text x="314.60" y="47.96" font-family='"Liberation Serif", serif' font-size="8.0" font-weight="normal" text-anchor="start" fill="#000" stroke="#000" stroke-width="0.25" >0.91</text>
<line x1="310.10" y1="65.33" x2="312.60" y2="65.33" stroke="#000" stroke-width="0.8" />
<text x="314.60" y="68.03" font-family='"Liberation Serif", serif' font-size="8.0" font-weight="normal" text-anchor="start" fill="#000" stroke="#000" stroke-width="0.25" >0.82</text>
<line x1="310.10" y1="85.39" x2="312.60" y2="85.39" stroke="#000" stroke-width="0.8" />
<text x="314.60" y="88.09" font-family='"Liberation Serif", serif' font-size="8.0" font-weight="normal" text-anchor="start" fill="#000" stroke="#000" stroke-width="0.25" >0.73</text>
<line x1="310.10" y1="105.45" x2="312.60" y2="105.45" stroke="#000" stroke-width="0.8" />
<text x="314.60" y="108.15" font-family='"Liberation Serif", serif' font-size="8.0" font-weight="normal" text-anchor="start" fill="#000" stroke="#000" stroke-width="0.25" >0.64</text>
<line x1="310.10" y1="125.52" x2="312.60" y2="125.52" stroke="#000" stroke-width="0.8" />
<text x="314.60" y="128.22" font-family='"Liberation Serif", serif' font-size="8.0" font-weight="normal" text-anchor="start" fill="#000" stroke="#000" stroke-width="0.25" >0.55</text>
<line x1="310.10" y1="145.58" x2="312.60" y2="145.58" stroke="#000" stroke-width="0.8" />
<text x="314.60" y="148.28" font-family='"Liberation Serif", serif' font-size="8.0" font-weight="normal" text-anchor="start" fill="#000" stroke="#000" stroke-width="0.25" >0.45</text>
<line x1="310.10" y1="165.65" x2="312.60" y2="165.65" stroke="#000" stroke-width="0.8" />
<text x="314.60" y="168.35" font-family='"Liberation Serif", serif' font-size="8.0" font-weight="normal" text-anchor="start" fill="#000" stroke="#000" stroke-width="0.25" >0.36</text>
<line x1="310.10" y1="185.71" x2="312.60" y2="185.71" stroke="#000" stroke-width="0.8" />
<text x="314.60" y="188.41" font-family='"Liberation Serif", serif' font-size="8.0" font-weight="normal" text-anchor="start" fill="#000" stroke="#000" stroke-width="0.25" >0.27</text>
<line x1="310.10" y1="205.77" x2="312.60" y2="205.77" stroke="#000" stroke-width="0.8" />
<text x="314.60" y="208.47" font-family='"Liberation Serif", serif' font-size="8.0" font-weight="normal" text-anchor="start" fill="#000" stroke="#000" stroke-width="0.25" >0.18</text>
<line x1="310.10" y1="225.84" x2="312.60" y2="225.84" stroke="#000" stroke-width="0.8" />
<text x="314.60" y="228.54" font-family='"Liberation Serif", serif' font-size="8.0" font-weight="normal" text-anchor="start" fill="#000" stroke="#000" stroke-width="0.25" >0.09</text>
<line x1="310.10" y1="245.90" x2="312.60" y2="245.90" stroke="#000" stroke-width="0.8" />
<text x="314.60" y="248.60" font-family='"Liberation Serif", serif' font-size="8.0" font-weight="normal" text-anchor="start" fill="#000" stroke="#000" stroke-width="0.25" >0.00</text>
<text x="300.50" y="13.30" font-family='"Liberation Serif", serif' font-size="11.7" font-weight="normal" text-anchor="middle" fill="#000" stroke="#000" stroke-width="0.25" >Reflectance</text>
<rect x="385.00" y="16.70" width="241.40" height="231.60" fill="#650000" stroke="none" stroke-width="1" />
<g clip-path="url(#clipB)">
<g filter="url(#blur05)">
<path d="M384,16 L406.3,16 L406.3,30 C406,52 396,70 384,78 Z" fill="#720000"/>
<path d="M384,16 L406.3,16 L406.3,28 C406.3,46 398,62 384,68 Z" fill="#800000"/>
<path d="M390,16 L406.3,16 L406.3,26 C406.3,40 401,50 390,54 Z" fill="#8c0000"/>
<path d="M396,16 L406.3,16 L406.3,24 C406.3,34 404,40 396,44 Z" fill="#a00000"/>
<path d="M400,16 L406.3,16 L406.3,22 C406.3,28 405,33 401,36 Z" fill="#b80000"/>
</g>
<path d="M395,40 L420,70 L610,205 L626,215" stroke="#6c0000" stroke-width="26" fill="none" filter="url(#blur3)" opacity="0.8"/>
<g>
<path d="M405.6,55.5 Q406.0,36.9 411.3,32.2 Q416.6,36.9 417.0,55.5 Q416.6,74.1 411.3,78.8 Q406.0,74.1 405.6,55.5 Z" fill="#760000" filter="url(#blur3)"/>
<path d="M408.6,55.5 Q408.9,43.9 411.3,38.8 Q413.7,43.9 414.1,55.5 Q413.7,67.1 411.3,72.2 Q408.9,67.1 408.6,55.5 Z" fill="#c00000" filter="url(#blur15)"/>
<ellipse cx="411.3" cy="55.5" rx="2.2" ry="15.5" fill="#ff0000" filter="url(#blur1)"/>
<g filter="url(#blur05)">
<path d="M409.70,55.5 L411.3,46.00 L412.90,55.5 L411.3,65.00 Z" fill="#ff8000"/>
<path d="M410.10,55.5 L411.3,48.00 L412.50,55.5 L411.3,63.00 Z" fill="#ffdd00"/>
<path d="M410.70,55.5 L411.3,53.00 L411.90,55.5 L411.3,58.00 Z" fill="#60ff40"/>
</g></g>
<g>
<path d="M413.7,72.7 Q414.3,53.5 420.5,48.7 Q426.7,53.5 427.3,72.7 Q426.7,91.9 420.5,96.7 Q414.3,91.9 413.7,72.7 Z" fill="#760000" filter="url(#blur3)"/>
<path d="M417.2,72.7 Q417.6,60.7 420.5,55.4 Q423.4,60.7 423.8,72.7 Q423.4,84.7 420.5,90.0 Q417.6,84.7 417.2,72.7 Z" fill="#c00000" filter="url(#blur15)"/>
<ellipse cx="420.5" cy="72.7" rx="2.6" ry="16.0" fill="#ff0000" filter="url(#blur1)"/>
<g filter="url(#blur05)">
<path d="M418.80,72.7 L420.5,63.20 L422.20,72.7 L420.5,82.20 Z" fill="#ff7000"/>
<path d="M419.20,72.7 L420.5,66.20 L421.80,72.7 L420.5,79.20 Z" fill="#ffc000"/>
<path d="M419.70,72.7 L420.5,69.20 L421.30,72.7 L420.5,76.20 Z" fill="#ffff40"/>
</g></g>
<g>
<path d="M427.3,90.6 Q427.8,71.4 434.8,66.6 Q441.8,71.4 442.3,90.6 Q441.8,109.8 434.8,114.6 Q427.8,109.8 427.3,90.6 Z" fill="#760000" filter="url(#blur3)"/>
<path d="M431.2,90.6 Q431.6,78.6 434.8,73.3 Q438.0,78.6 438.4,90.6 Q438.0,102.6 434.8,107.9 Q431.6,102.6 431.2,90.6 Z" fill="#c00000" filter="url(#blur15)"/>
<ellipse cx="434.8" cy="90.6" rx="2.9" ry="16.0" fill="#ff0000" filter="url(#blur1)"/>
<g filter="url(#blur05)">
<path d="M432.60,90.6 L434.8,79.60 L437.00,90.6 L434.8,101.60 Z" fill="#ff8000"/>
<path d="M433.00,90.6 L434.8,81.30 L436.60,90.6 L434.8,99.90 Z" fill="#ffdd00"/>
<path d="M433.90,90.6 L434.8,86.80 L435.70,90.6 L434.8,94.40 Z" fill="#40ff20"/>
</g></g>
<g>
<path d="M444.2,107.9 Q444.9,89.2 453.3,84.5 Q461.7,89.2 462.4,107.9 Q461.7,126.6 453.3,131.3 Q444.9,126.6 444.2,107.9 Z" fill="#760000" filter="url(#blur3)"/>
<path d="M448.9,107.9 Q449.4,96.2 453.3,91.1 Q457.2,96.2 457.7,107.9 Q457.2,119.6 453.3,124.7 Q449.4,119.6 448.9,107.9 Z" fill="#c00000" filter="url(#blur15)"/>
<ellipse cx="453.3" cy="107.9" rx="3.5" ry="15.6" fill="#ff0000" filter="url(#blur1)"/>
<g filter="url(#blur05)">
<path d="M451.30,107.9 L453.3,95.90 L455.30,107.9 L453.3,119.90 Z" fill="#ff8000"/>
<path d="M451.70,107.9 L453.3,97.60 L454.90,107.9 L453.3,118.20 Z" fill="#ffee00"/>
<path d="M452.20,107.9 L453.3,101.30 L454.40,107.9 L453.3,114.50 Z" fill="#30ff30"/>
<path d="M452.55,107.9 L453.3,103.70 L454.05,107.9 L453.3,112.10 Z" fill="#00e0ff"/>
<path d="M452.80,107.9 L453.3,105.30 L453.80,107.9 L453.3,110.50 Z" fill="#0030ff"/>
</g></g>
<g>
<path d="M465.3,125.6 Q466.1,106.8 475.7,102.0 Q485.3,106.8 486.1,125.6 Q485.3,144.4 475.7,149.1 Q466.1,144.4 465.3,125.6 Z" fill="#760000" filter="url(#blur3)"/>
<path d="M470.7,125.6 Q471.3,113.8 475.7,108.6 Q480.1,113.8 480.7,125.6 Q480.1,137.4 475.7,142.6 Q471.3,137.4 470.7,125.6 Z" fill="#c00000" filter="url(#blur15)"/>
<ellipse cx="475.7" cy="125.6" rx="4.0" ry="15.7" fill="#ff0000" filter="url(#blur1)"/>
<g filter="url(#blur05)">
<path d="M472.70,125.6 L475.7,114.10 L478.70,125.6 L475.7,137.10 Z" fill="#ff8000"/>
<path d="M473.20,125.6 L475.7,115.80 L478.20,125.6 L475.7,135.40 Z" fill="#ffee00"/>
<path d="M474.10,125.6 L475.7,120.00 L477.30,125.6 L475.7,131.20 Z" fill="#40ff30"/>
<path d="M474.60,125.6 L475.7,121.80 L476.80,125.6 L475.7,129.40 Z" fill="#00e0ff"/>
<path d="M475.00,125.6 L475.7,123.20 L476.40,125.6 L475.7,128.00 Z" fill="#0030ff"/>
</g></g>
<g>
<path d="M492.6,142.7 Q493.4,123.1 503.5,118.2 Q513.6,123.1 514.4,142.7 Q513.6,162.3 503.5,167.1 Q493.4,162.3 492.6,142.7 Z" fill="#760000" filter="url(#blur3)"/>
<path d="M498.2,142.7 Q498.9,130.5 503.5,125.1 Q508.1,130.5 508.8,142.7 Q508.1,154.9 503.5,160.3 Q498.9,154.9 498.2,142.7 Z" fill="#c00000" filter="url(#blur15)"/>
<ellipse cx="503.5" cy="142.7" rx="4.2" ry="16.3" fill="#ff0000" filter="url(#blur1)"/>
<g filter="url(#blur05)">
<path d="M500.20,142.7 L503.5,130.70 L506.80,142.7 L503.5,154.70 Z" fill="#ff8000"/>
<path d="M500.75,142.7 L503.5,132.50 L506.25,142.7 L503.5,152.90 Z" fill="#ffee00"/>
<path d="M501.75,142.7 L503.5,136.70 L505.25,142.7 L503.5,148.70 Z" fill="#40ff30"/>
<path d="M502.35,142.7 L503.5,138.70 L504.65,142.7 L503.5,146.70 Z" fill="#00e0ff"/>
<path d="M502.75,142.7 L503.5,140.00 L504.25,142.7 L503.5,145.40 Z" fill="#0030ff"/>
</g></g>
<g>
<path d="M522.2,160.2 Q523.1,140.8 533.9,135.9 Q544.7,140.8 545.6,160.2 Q544.7,179.6 533.9,184.5 Q523.1,179.6 522.2,160.2 Z" fill="#760000" filter="url(#blur3)"/>
<path d="M528.3,160.2 Q528.9,148.0 533.9,142.7 Q538.9,148.0 539.5,160.2 Q538.9,172.3 533.9,177.7 Q528.9,172.3 528.3,160.2 Z" fill="#c00000" filter="url(#blur15)"/>
<ellipse cx="533.9" cy="160.2" rx="4.5" ry="16.2" fill="#ff0000" filter="url(#blur1)"/>
<g filter="url(#blur05)">
<path d="M530.50,160.2 L533.9,148.20 L537.30,160.2 L533.9,172.20 Z" fill="#ff8000"/>
<path d="M531.10,160.2 L533.9,149.90 L536.70,160.2 L533.9,170.50 Z" fill="#ffee00"/>
<path d="M532.10,160.2 L533.9,154.00 L535.70,160.2 L533.9,166.40 Z" fill="#40ff30"/>
<path d="M532.70,160.2 L533.9,156.10 L535.10,160.2 L533.9,164.30 Z" fill="#00e0ff"/>
<path d="M533.10,160.2 L533.9,157.40 L534.70,160.2 L533.9,163.00 Z" fill="#0030ff"/>
</g></g>
<g>
<path d="M556.7,177.7 Q557.6,158.3 568.4,153.4 Q579.2,158.3 580.1,177.7 Q579.2,197.1 568.4,202.0 Q557.6,197.1 556.7,177.7 Z" fill="#760000" filter="url(#blur3)"/>
<path d="M562.8,177.7 Q563.4,165.5 568.4,160.2 Q573.4,165.5 574.0,177.7 Q573.4,189.8 568.4,195.2 Q563.4,189.8 562.8,177.7 Z" fill="#c00000" filter="url(#blur15)"/>
<ellipse cx="568.4" cy="177.7" rx="4.5" ry="16.2" fill="#ff0000" filter="url(#blur1)"/>
<g filter="url(#blur05)">
<path d="M565.00,177.7 L568.4,165.70 L571.80,177.7 L568.4,189.70 Z" fill="#ff8000"/>
<path d="M565.60,177.7 L568.4,167.40 L571.20,177.7 L568.4,188.00 Z" fill="#ffee00"/>
<path d="M566.60,177.7 L568.4,171.50 L570.20,177.7 L568.4,183.90 Z" fill="#40ff30"/>
<path d="M567.20,177.7 L568.4,173.60 L569.60,177.7 L568.4,181.80 Z" fill="#00e0ff"/>
<path d="M567.60,177.7 L568.4,174.90 L569.20,177.7 L568.4,180.50 Z" fill="#0030ff"/>
</g></g>
<g>
<path d="M595.3,195.1 Q596.3,175.4 607.3,170.5 Q618.3,175.4 619.3,195.1 Q618.3,214.8 607.3,219.7 Q596.3,214.8 595.3,195.1 Z" fill="#760000" filter="url(#blur3)"/>
<path d="M601.5,195.1 Q602.2,182.8 607.3,177.4 Q612.4,182.8 613.0,195.1 Q612.4,207.4 607.3,212.8 Q602.2,207.4 601.5,195.1 Z" fill="#c00000" filter="url(#blur15)"/>
<ellipse cx="607.3" cy="195.1" rx="4.6" ry="16.4" fill="#ff0000" filter="url(#blur1)"/>
<g filter="url(#blur05)">
<path d="M603.80,195.1 L607.3,182.90 L610.80,195.1 L607.3,207.30 Z" fill="#ff8000"/>
<path d="M604.40,195.1 L607.3,184.70 L610.20,195.1 L607.3,205.50 Z" fill="#ffee00"/>
<path d="M605.45,195.1 L607.3,188.80 L609.15,195.1 L607.3,201.40 Z" fill="#40ff30"/>
<path d="M606.05,195.1 L607.3,190.90 L608.55,195.1 L607.3,199.30 Z" fill="#00e0ff"/>
<path d="M606.45,195.1 L607.3,192.20 L608.15,195.1 L607.3,198.00 Z" fill="#0030ff"/>
</g></g>
<rect x="527.10" y="23.90" width="96.20" height="92.50" fill="#640000" stroke="none" stroke-width="1" />
<g clip-path="url(#clipI)">
<ellipse cx="579" cy="65" rx="62" ry="43" fill="url(#insetGlow)" filter="url(#blur2)"/>
<g filter="url(#blur1)">
<polygon points="554.2,65.2 569.0,45.7 582.9,42.2 604.9,65.2 582.9,88.7 568.5,84.1" fill="#ff8800"/>
<polygon points="556.2,65.2 570.0,47.1 582.9,43.8 603.4,65.2 582.9,87.1 569.5,82.8" fill="#ffe800"/>
<polygon points="560.8,65.2 572.2,50.2 582.9,47.5 599.8,65.2 582.9,83.3 571.8,79.8" fill="#b0ff00"/>
<polygon points="563.6,65.2 573.6,52.1 582.9,49.8 597.6,65.2 582.9,80.9 573.2,77.9" fill="#10ff30"/>
<polygon points="566.5,65.2 582.9,55.2 591.8,65.2 582.9,76.3" fill="#00ffe0"/>
<polygon points="569.5,65.2 582.9,58.0 590.3,65.2 582.9,73.2" fill="#00a8ff"/>
<polygon points="572.6,65.2 582.9,60.8 589.0,65.2 582.9,70.0" fill="#1830ff"/>
<polygon points="577.5,65.2 582.9,62.6 587.0,65.2 582.9,68.2" fill="#7010f0"/>
</g>
</g>
<rect x="527.10" y="23.90" width="96.20" height="92.50" fill="none" stroke="#200000" stroke-width="0.8" />
<text x="525.20" y="26.80" font-family='"Liberation Serif", serif' font-size="8.1" font-weight="normal" text-anchor="end" fill="#fff" >631</text>
<line x1="527.10" y1="23.90" x2="529.60" y2="23.90" stroke="#200000" stroke-width="0.8" />
<text x="525.20" y="57.63" font-family='"Liberation Serif", serif' font-size="8.1" font-weight="normal" text-anchor="end" fill="#fff" >630</text>
<line x1="527.10" y1="54.73" x2="529.60" y2="54.73" stroke="#200000" stroke-width="0.8" />
<text x="525.20" y="88.47" font-family='"Liberation Serif", serif' font-size="8.1" font-weight="normal" text-anchor="end" fill="#fff" >629</text>
<line x1="527.10" y1="85.57" x2="529.60" y2="85.57" stroke="#200000" stroke-width="0.8" />
<text x="525.20" y="119.30" font-family='"Liberation Serif", serif' font-size="8.1" font-weight="normal" text-anchor="end" fill="#fff" >628</text>
<line x1="527.10" y1="116.40" x2="529.60" y2="116.40" stroke="#200000" stroke-width="0.8" />
<text x="547.00" y="125.00" font-family='"Liberation Serif", serif' font-size="8.1" font-weight="normal" text-anchor="middle" fill="#fff" >41.9083</text>
<text x="578.30" y="125.00" font-family='"Liberation Serif", serif' font-size="8.1" font-weight="normal" text-anchor="middle" fill="#fff" >41.9106</text>
<text x="610.40" y="125.00" font-family='"Liberation Serif", serif' font-size="8.1" font-weight="normal" text-anchor="middle" fill="#fff" >41.9129</text>
<text x="576.6" y="113.0" font-family='"Liberation Serif", serif' font-size="6.7" fill="#fff" stroke="#fff" stroke-width="0.15">R<tspan font-size="5.2" dy="1.9">9</tspan></text>
<path d="M605,180.5 L597.5,137" stroke="#fff" stroke-width="1.1" stroke-dasharray="3.2 2.2" fill="none"/>
<polygon points="595.5,132 594.3,139.2 599.7,138.2" fill="#fff"/>
</g>
<text x="406.3" y="79.0" font-family='"Liberation Serif", serif' font-size="6.7" fill="#fff" stroke="#fff" stroke-width="0.15">R<tspan font-size="5.2" dy="1.9">1</tspan></text>
<text x="420.0" y="53.2" font-family='"Liberation Serif", serif' font-size="6.7" fill="#fff" stroke="#fff" stroke-width="0.15">R<tspan font-size="5.2" dy="1.9">2</tspan></text>
<text x="432.0" y="116.0" font-family='"Liberation Serif", serif' font-size="6.7" fill="#fff" stroke="#fff" stroke-width="0.15">R<tspan font-size="5.2" dy="1.9">3</tspan></text>
<text x="451.8" y="87.9" font-family='"Liberation Serif", serif' font-size="6.7" fill="#fff" stroke="#fff" stroke-width="0.15">R<tspan font-size="5.2" dy="1.9">4</tspan></text>
<text x="471.9" y="152.0" font-family='"Liberation Serif", serif' font-size="6.7" fill="#fff" stroke="#fff" stroke-width="0.15">R<tspan font-size="5.2" dy="1.9">5</tspan></text>
<text x="502.4" y="122.8" font-family='"Liberation Serif", serif' font-size="6.7" fill="#fff" stroke="#fff" stroke-width="0.15">R<tspan font-size="5.2" dy="1.9">6</tspan></text>
<text x="527.4" y="186.6" font-family='"Liberation Serif", serif' font-size="6.7" fill="#fff" stroke="#fff" stroke-width="0.15">R<tspan font-size="5.2" dy="1.9">7</tspan></text>
<text x="569.8" y="155.3" font-family='"Liberation Serif", serif' font-size="6.7" fill="#fff" stroke="#fff" stroke-width="0.15">R<tspan font-size="5.2" dy="1.9">8</tspan></text>
<text x="603.6" y="221.0" font-family='"Liberation Serif", serif' font-size="6.7" fill="#fff" stroke="#fff" stroke-width="0.15">R<tspan font-size="5.2" dy="1.9">9</tspan></text>
<rect x="385.00" y="16.70" width="241.40" height="231.60" fill="none" stroke="#000" stroke-width="1" />
<line x1="385.00" y1="248.30" x2="385.00" y2="252.30" stroke="#000" stroke-width="1" />
<line x1="405.12" y1="248.30" x2="405.12" y2="250.50" stroke="#000" stroke-width="1" />
<line x1="425.23" y1="248.30" x2="425.23" y2="252.30" stroke="#000" stroke-width="1" />
<line x1="445.35" y1="248.30" x2="445.35" y2="250.50" stroke="#000" stroke-width="1" />
<line x1="465.47" y1="248.30" x2="465.47" y2="252.30" stroke="#000" stroke-width="1" />
<line x1="485.58" y1="248.30" x2="485.58" y2="250.50" stroke="#000" stroke-width="1" />
<line x1="505.70" y1="248.30" x2="505.70" y2="252.30" stroke="#000" stroke-width="1" />
<line x1="525.82" y1="248.30" x2="525.82" y2="250.50" stroke="#000" stroke-width="1" />
<line x1="545.93" y1="248.30" x2="545.93" y2="252.30" stroke="#000" stroke-width="1" />
<line x1="566.05" y1="248.30" x2="566.05" y2="250.50" stroke="#000" stroke-width="1" />
<line x1="586.17" y1="248.30" x2="586.17" y2="252.30" stroke="#000" stroke-width="1" />
<line x1="606.28" y1="248.30" x2="606.28" y2="250.50" stroke="#000" stroke-width="1" />
<line x1="626.40" y1="248.30" x2="626.40" y2="252.30" stroke="#000" stroke-width="1" />
<line x1="381.00" y1="248.30" x2="385.00" y2="248.30" stroke="#000" stroke-width="1" />
<line x1="382.80" y1="233.83" x2="385.00" y2="233.83" stroke="#000" stroke-width="1" />
<line x1="381.00" y1="219.35" x2="385.00" y2="219.35" stroke="#000" stroke-width="1" />
<line x1="382.80" y1="204.88" x2="385.00" y2="204.88" stroke="#000" stroke-width="1" />
<line x1="381.00" y1="190.40" x2="385.00" y2="190.40" stroke="#000" stroke-width="1" />
<line x1="382.80" y1="175.93" x2="385.00" y2="175.93" stroke="#000" stroke-width="1" />
<line x1="381.00" y1="161.45" x2="385.00" y2="161.45" stroke="#000" stroke-width="1" />
<line x1="382.80" y1="146.97" x2="385.00" y2="146.97" stroke="#000" stroke-width="1" />
<line x1="381.00" y1="132.50" x2="385.00" y2="132.50" stroke="#000" stroke-width="1" />
<line x1="382.80" y1="118.03" x2="385.00" y2="118.03" stroke="#000" stroke-width="1" />
<line x1="381.00" y1="103.55" x2="385.00" y2="103.55" stroke="#000" stroke-width="1" />
<line x1="382.80" y1="89.08" x2="385.00" y2="89.08" stroke="#000" stroke-width="1" />
<line x1="381.00" y1="74.60" x2="385.00" y2="74.60" stroke="#000" stroke-width="1" />
<line x1="382.80" y1="60.12" x2="385.00" y2="60.12" stroke="#000" stroke-width="1" />
<line x1="381.00" y1="45.65" x2="385.00" y2="45.65" stroke="#000" stroke-width="1" />
<line x1="382.80" y1="31.18" x2="385.00" y2="31.18" stroke="#000" stroke-width="1" />
<line x1="381.00" y1="16.70" x2="385.00" y2="16.70" stroke="#000" stroke-width="1" />
<text x="385.00" y="263.60" font-family='"Liberation Serif", serif' font-size="9.9" font-weight="normal" text-anchor="middle" fill="#000" stroke="#000" stroke-width="0.25" >41.80</text>
<text x="425.23" y="263.60" font-family='"Liberation Serif", serif' font-size="9.9" font-weight="normal" text-anchor="middle" fill="#000" stroke="#000" stroke-width="0.25" >41.82</text>
<text x="465.47" y="263.60" font-family='"Liberation Serif", serif' font-size="9.9" font-weight="normal" text-anchor="middle" fill="#000" stroke="#000" stroke-width="0.25" >41.84</text>
<text x="505.70" y="263.60" font-family='"Liberation Serif", serif' font-size="9.9" font-weight="normal" text-anchor="middle" fill="#000" stroke="#000" stroke-width="0.25" >41.86</text>
<text x="545.93" y="263.60" font-family='"Liberation Serif", serif' font-size="9.9" font-weight="normal" text-anchor="middle" fill="#000" stroke="#000" stroke-width="0.25" >41.88</text>
<text x="586.17" y="263.60" font-family='"Liberation Serif", serif' font-size="9.9" font-weight="normal" text-anchor="middle" fill="#000" stroke="#000" stroke-width="0.25" >41.90</text>
<text x="626.40" y="263.60" font-family='"Liberation Serif", serif' font-size="9.9" font-weight="normal" text-anchor="middle" fill="#000" stroke="#000" stroke-width="0.25" >41.92</text>
<text x="377.60" y="251.70" font-family='"Liberation Serif", serif' font-size="9.9" font-weight="normal" text-anchor="end" fill="#000" stroke="#000" stroke-width="0.25" >626</text>
<text x="377.60" y="222.75" font-family='"Liberation Serif", serif' font-size="9.9" font-weight="normal" text-anchor="end" fill="#000" stroke="#000" stroke-width="0.25" >628</text>
<text x="377.60" y="193.80" font-family='"Liberation Serif", serif' font-size="9.9" font-weight="normal" text-anchor="end" fill="#000" stroke="#000" stroke-width="0.25" >630</text>
<text x="377.60" y="164.85" font-family='"Liberation Serif", serif' font-size="9.9" font-weight="normal" text-anchor="end" fill="#000" stroke="#000" stroke-width="0.25" >632</text>
<text x="377.60" y="135.90" font-family='"Liberation Serif", serif' font-size="9.9" font-weight="normal" text-anchor="end" fill="#000" stroke="#000" stroke-width="0.25" >634</text>
<text x="377.60" y="106.95" font-family='"Liberation Serif", serif' font-size="9.9" font-weight="normal" text-anchor="end" fill="#000" stroke="#000" stroke-width="0.25" >636</text>
<text x="377.60" y="78.00" font-family='"Liberation Serif", serif' font-size="9.9" font-weight="normal" text-anchor="end" fill="#000" stroke="#000" stroke-width="0.25" >638</text>
<text x="377.60" y="49.05" font-family='"Liberation Serif", serif' font-size="9.9" font-weight="normal" text-anchor="end" fill="#000" stroke="#000" stroke-width="0.25" >640</text>
<text x="377.60" y="20.10" font-family='"Liberation Serif", serif' font-size="9.9" font-weight="normal" text-anchor="end" fill="#000" stroke="#000" stroke-width="0.25" >642</text>
<text x="505.70" y="282.30" font-family='"Liberation Serif", serif' font-size="11.95" font-weight="normal" text-anchor="middle" fill="#000" stroke="#000" stroke-width="0.25" >Incidence Angle (Degree)</text>
<text x="0.00" y="0.00" font-family='"Liberation Serif", serif' font-size="12" font-weight="normal" text-anchor="middle" fill="#000" stroke="#000" stroke-width="0.25" transform="translate(355.4,131.7) rotate(-90)">Wavelength (nm)</text>
<text x="515.50" y="304.20" font-family='"Liberation Sans", sans-serif' font-size="12.7" font-weight="bold" text-anchor="middle" fill="#000" stroke="#000" stroke-width="0.25" >(b)</text>
<rect x="637.30" y="17.30" width="20.00" height="3.80" fill="#fff" stroke="none" stroke-width="1" />
<rect x="637.30" y="21.10" width="20.00" height="223.30" fill="url(#cbAB)" stroke="none" stroke-width="1" />
<rect x="637.30" y="244.40" width="20.00" height="3.20" fill="#000" stroke="none" stroke-width="1" />
<rect x="637.30" y="17.30" width="20.00" height="230.30" fill="none" stroke="#000" stroke-width="0.8" />
<line x1="657.30" y1="21.10" x2="659.80" y2="21.10" stroke="#000" stroke-width="0.8" />
<text x="661.20" y="23.80" font-family='"Liberation Serif", serif' font-size="8.0" font-weight="normal" text-anchor="start" fill="#000" stroke="#000" stroke-width="0.25" >1.00</text>
<line x1="657.30" y1="41.40" x2="659.80" y2="41.40" stroke="#000" stroke-width="0.8" />
<text x="661.20" y="44.10" font-family='"Liberation Serif", serif' font-size="8.0" font-weight="normal" text-anchor="start" fill="#000" stroke="#000" stroke-width="0.25" >0.91</text>
<line x1="657.30" y1="61.70" x2="659.80" y2="61.70" stroke="#000" stroke-width="0.8" />
<text x="661.20" y="64.40" font-family='"Liberation Serif", serif' font-size="8.0" font-weight="normal" text-anchor="start" fill="#000" stroke="#000" stroke-width="0.25" >0.82</text>
<line x1="657.30" y1="82.00" x2="659.80" y2="82.00" stroke="#000" stroke-width="0.8" />
<text x="661.20" y="84.70" font-family='"Liberation Serif", serif' font-size="8.0" font-weight="normal" text-anchor="start" fill="#000" stroke="#000" stroke-width="0.25" >0.73</text>
<line x1="657.30" y1="102.30" x2="659.80" y2="102.30" stroke="#000" stroke-width="0.8" />
<text x="661.20" y="105.00" font-family='"Liberation Serif", serif' font-size="8.0" font-weight="normal" text-anchor="start" fill="#000" stroke="#000" stroke-width="0.25" >0.64</text>
<line x1="657.30" y1="122.60" x2="659.80" y2="122.60" stroke="#000" stroke-width="0.8" />
<text x="661.20" y="125.30" font-family='"Liberation Serif", serif' font-size="8.0" font-weight="normal" text-anchor="start" fill="#000" stroke="#000" stroke-width="0.25" >0.55</text>
<line x1="657.30" y1="142.90" x2="659.80" y2="142.90" stroke="#000" stroke-width="0.8" />
<text x="661.20" y="145.60" font-family='"Liberation Serif", serif' font-size="8.0" font-weight="normal" text-anchor="start" fill="#000" stroke="#000" stroke-width="0.25" >0.45</text>
<line x1="657.30" y1="163.20" x2="659.80" y2="163.20" stroke="#000" stroke-width="0.8" />
<text x="661.20" y="165.90" font-family='"Liberation Serif", serif' font-size="8.0" font-weight="normal" text-anchor="start" fill="#000" stroke="#000" stroke-width="0.25" >0.36</text>
<line x1="657.30" y1="183.50" x2="659.80" y2="183.50" stroke="#000" stroke-width="0.8" />
<text x="661.20" y="186.20" font-family='"Liberation Serif", serif' font-size="8.0" font-weight="normal" text-anchor="start" fill="#000" stroke="#000" stroke-width="0.25" >0.27</text>
<line x1="657.30" y1="203.80" x2="659.80" y2="203.80" stroke="#000" stroke-width="0.8" />
<text x="661.20" y="206.50" font-family='"Liberation Serif", serif' font-size="8.0" font-weight="normal" text-anchor="start" fill="#000" stroke="#000" stroke-width="0.25" >0.18</text>
<line x1="657.30" y1="224.10" x2="659.80" y2="224.10" stroke="#000" stroke-width="0.8" />
<text x="661.20" y="226.80" font-family='"Liberation Serif", serif' font-size="8.0" font-weight="normal" text-anchor="start" fill="#000" stroke="#000" stroke-width="0.25" >0.09</text>
<line x1="657.30" y1="244.40" x2="659.80" y2="244.40" stroke="#000" stroke-width="0.8" />
<text x="661.20" y="247.10" font-family='"Liberation Serif", serif' font-size="8.0" font-weight="normal" text-anchor="start" fill="#000" stroke="#000" stroke-width="0.25" >0.00</text>
<text x="646.90" y="9.00" font-family='"Liberation Serif", serif' font-size="11.7" font-weight="normal" text-anchor="middle" fill="#000" stroke="#000" stroke-width="0.25" >Reflectance</text>
<g clip-path="url(#clipC)">
<path d="M38.59,319.94 L41.25,319.94 L43.92,319.94 L46.58,319.94 L49.24,319.94 L51.91,319.94 L54.57,319.94 L57.24,319.94 L59.90,319.94 L62.56,319.94 L65.23,319.94 L67.89,319.94 L70.55,319.94 L73.22,319.94 L75.88,319.94 L78.55,319.94 L81.21,319.94 L83.87,319.94 L86.54,319.94 L89.20,319.95 L91.86,319.95 L94.53,319.95 L97.19,319.95 L99.86,319.95 L102.52,319.95 L105.18,319.95 L107.85,318.93 L110.51,318.93 L113.17,318.93 L115.84,318.93 L118.50,318.93 L121.17,318.93 L123.83,318.94 L126.49,318.94 L129.16,318.94 L131.82,318.94 L134.48,318.95 L137.15,318.95 L139.81,318.95 L142.48,318.96 L145.14,318.96 L147.80,318.97 L150.47,318.98 L153.13,318.98 L155.79,318.99 L158.46,319.00 L161.12,319.02 L163.79,319.03 L166.45,319.05 L169.11,319.07 L171.78,319.10 L174.44,319.13 L177.10,319.17 L179.77,319.22 L182.43,319.30 L185.10,319.40 L187.76,319.54 L190.42,319.76 L193.09,320.11 L195.75,320.72 L195.75,320.72 L195.81,320.74 L195.87,320.76 L195.93,320.78 L195.98,320.79 L196.04,320.81 L196.10,320.83 L196.16,320.85 L196.22,320.87 L196.27,320.89 L196.33,320.91 L196.39,320.94 L196.45,320.96 L196.51,320.98 L196.57,321.00 L196.62,321.02 L196.68,321.05 L196.74,321.07 L196.80,321.09 L196.86,321.12 L196.92,321.14 L196.97,321.17 L197.03,321.19 L197.09,321.22 L197.15,321.25 L197.21,321.27 L197.26,321.30 L197.32,321.33 L197.38,321.35 L197.44,321.38 L197.50,321.41 L197.56,321.44 L197.61,321.47 L197.67,321.50 L197.73,321.53 L197.79,321.57 L197.85,321.60 L197.91,321.63 L197.96,321.66 L198.02,321.70 L198.08,321.73 L198.14,321.77 L198.20,321.80 L198.26,321.84 L198.31,321.88 L198.37,321.92 L198.43,321.95 L198.49,321.99 L198.55,322.03 L198.60,322.08 L198.66,322.12 L198.72,322.16 L198.78,322.20 L198.84,322.25 L198.90,322.29 L198.95,322.34 L199.01,322.39 L199.07,322.44 L199.13,322.49 L199.19,322.54 L199.25,322.59 L199.30,322.64 L199.36,322.69 L199.42,322.75 L199.48,322.80 L199.54,322.86 L199.59,322.92 L199.65,322.98 L199.71,323.04 L199.77,323.10 L199.83,323.17 L199.89,323.23 L199.94,323.30 L200.00,323.37 L200.06,323.44 L200.12,323.51 L200.18,323.58 L200.24,323.66 L200.29,323.73 L200.35,323.81 L200.41,323.89 L200.47,323.97 L200.53,324.06 L200.58,324.15 L200.64,324.23 L200.70,324.33 L200.76,324.42 L200.82,324.51 L200.88,324.61 L200.93,324.71 L200.99,324.82 L201.05,324.92 L201.11,325.03 L201.17,325.15 L201.23,325.26 L201.28,325.38 L201.34,325.50 L201.40,325.63 L201.46,325.75 L201.52,325.89 L201.58,326.02 L201.63,326.16 L201.69,326.31 L201.75,326.46 L201.81,326.61 L201.87,326.77 L201.92,326.93 L201.98,327.10 L202.04,327.27 L202.10,327.45 L202.16,327.63 L202.22,327.82 L202.27,328.02 L202.33,328.22 L202.39,328.43 L202.45,328.64 L202.51,328.87 L202.57,329.10 L202.62,329.34 L202.68,329.58 L202.74,329.84 L202.80,330.11 L202.86,330.38 L202.91,330.66 L202.97,330.96 L203.03,331.27 L203.09,331.58 L203.15,331.91 L203.21,332.26 L203.26,332.61 L203.32,332.98 L203.38,333.37 L203.44,333.77 L203.50,334.18 L203.56,334.62 L203.61,335.07 L203.67,335.54 L203.73,336.03 L203.79,336.55 L203.85,337.08 L203.90,337.64 L203.96,338.23 L204.02,338.84 L204.08,339.48 L204.14,340.15 L204.20,340.85 L204.25,341.58 L204.31,342.36 L204.37,343.17 L204.43,344.02 L204.49,344.91 L204.55,345.85 L204.60,346.84 L204.66,347.88 L204.72,348.98 L204.78,350.14 L204.84,351.36 L204.90,352.65 L204.95,354.01 L205.01,355.45 L205.07,356.97 L205.13,358.58 L205.19,360.29 L205.24,362.10 L205.30,364.02 L205.36,366.06 L205.42,368.23 L205.48,370.53 L205.54,372.97 L205.59,375.57 L205.65,378.34 L205.71,381.28 L205.77,384.41 L205.83,387.75 L205.89,391.29 L205.94,395.07 L206.00,399.08 L206.06,403.34 L206.12,407.86 L206.18,412.65 L206.23,417.73 L206.29,423.08 L206.35,428.72 L206.41,434.63 L206.47,440.81 L206.53,447.23 L206.58,453.87 L206.64,460.67 L206.70,467.60 L206.76,474.57 L206.82,481.49 L206.88,488.28 L206.93,494.80 L206.99,500.93 L207.05,506.54 L207.11,511.49 L207.17,515.64 L207.22,518.87 L207.28,521.08 L207.34,522.20 L207.40,522.20 L207.46,521.08 L207.52,518.87 L207.57,515.64 L207.63,511.49 L207.69,506.54 L207.75,500.93 L207.81,494.80 L207.87,488.28 L207.92,481.49 L207.98,474.57 L208.04,467.60 L208.10,460.67 L208.16,453.87 L208.22,447.23 L208.27,440.81 L208.33,434.63 L208.39,428.72 L208.45,423.08 L208.51,417.73 L208.56,412.65 L208.62,407.86 L208.68,403.34 L208.74,399.08 L208.80,395.07 L208.86,391.29 L208.91,387.75 L208.97,384.41 L209.03,381.28 L209.09,378.34 L209.15,375.57 L209.21,372.97 L209.26,370.53 L209.32,368.23 L209.38,366.06 L209.44,364.02 L209.50,362.10 L209.55,360.29 L209.61,358.58 L209.67,356.97 L209.73,355.45 L209.79,354.01 L209.85,352.65 L209.90,351.36 L209.96,350.14 L210.02,348.98 L210.08,347.88 L210.14,346.84 L210.20,345.85 L210.25,344.91 L210.31,344.02 L210.37,343.17 L210.43,342.36 L210.49,341.58 L210.54,340.85 L210.60,340.15 L210.66,339.48 L210.72,338.84 L210.78,338.23 L210.84,337.64 L210.89,337.08 L210.95,336.55 L211.01,336.03 L211.07,335.54 L211.13,335.07 L211.19,334.62 L211.24,334.18 L211.30,333.77 L211.36,333.37 L211.42,332.98 L211.48,332.61 L211.54,332.26 L211.59,331.91 L211.65,331.58 L211.71,331.27 L211.77,330.96 L211.83,330.66 L211.88,330.38 L211.94,330.11 L212.00,329.84 L212.06,329.58 L212.12,329.34 L212.18,329.10 L212.23,328.87 L212.29,328.64 L212.35,328.43 L212.41,328.22 L212.47,328.02 L212.53,327.82 L212.58,327.63 L212.64,327.45 L212.70,327.27 L212.76,327.10 L212.82,326.93 L212.87,326.77 L212.93,326.61 L212.99,326.46 L213.05,326.31 L213.11,326.16 L213.17,326.02 L213.22,325.89 L213.28,325.75 L213.34,325.63 L213.40,325.50 L213.46,325.38 L213.52,325.26 L213.57,325.15 L213.63,325.03 L213.69,324.92 L213.75,324.82 L213.81,324.71 L213.86,324.61 L213.92,324.51 L213.98,324.42 L214.04,324.33 L214.10,324.23 L214.16,324.15 L214.21,324.06 L214.27,323.97 L214.33,323.89 L214.39,323.81 L214.45,323.73 L214.51,323.66 L214.56,323.58 L214.62,323.51 L214.68,323.44 L214.74,323.37 L214.80,323.30 L214.86,323.23 L214.91,323.17 L214.97,323.10 L215.03,323.04 L215.09,322.98 L215.15,322.92 L215.20,322.86 L215.26,322.80 L215.32,322.75 L215.38,322.69 L215.44,322.64 L215.50,322.59 L215.55,322.54 L215.61,322.49 L215.67,322.44 L215.73,322.39 L215.79,322.34 L215.85,322.29 L215.90,322.25 L215.96,322.20 L216.02,322.16 L216.08,322.12 L216.14,322.08 L216.19,322.03 L216.25,321.99 L216.31,321.95 L216.37,321.92 L216.43,321.88 L216.49,321.84 L216.54,321.80 L216.60,321.77 L216.66,321.73 L216.72,321.70 L216.78,321.66 L216.84,321.63 L216.89,321.60 L216.95,321.57 L217.01,321.53 L217.07,321.50 L217.13,321.47 L217.18,321.44 L217.24,321.41 L217.30,321.38 L217.36,321.35 L217.42,321.33 L217.48,321.30 L217.53,321.27 L217.59,321.25 L217.65,321.22 L217.71,321.19 L217.77,321.17 L217.83,321.14 L217.88,321.12 L217.94,321.09 L218.00,321.07 L218.06,321.05 L218.12,321.02 L218.18,321.00 L218.23,320.98 L218.29,320.96 L218.35,320.94 L218.41,320.91 L218.47,320.89 L218.52,320.87 L218.58,320.85 L218.64,320.83 L218.70,320.81 L218.76,320.79 L218.82,320.78 L218.87,320.76 L218.93,320.74 L218.99,320.72 L218.99,320.72 L220.56,320.31 L222.13,320.03 L223.70,319.83 L225.27,319.67 L226.84,319.55 L228.41,319.46 L229.99,319.38 L231.56,319.32 L233.13,319.27 L234.70,319.23 L236.27,319.20 L237.84,319.17 L239.41,319.14 L240.98,319.12 L242.55,319.10 L244.12,319.08 L245.69,319.07 L247.26,319.06 L248.83,319.04 L250.40,319.03 L251.97,319.02 L253.55,319.02 L255.12,319.01 L256.69,319.00 L258.26,319.00 L259.83,318.99 L261.40,318.98 L262.97,318.98 L264.54,318.98 L266.11,318.97 L267.68,318.97 L269.25,318.96 L270.82,318.96 L272.39,318.96 L273.96,318.96 L275.53,318.95 L277.11,318.95 L278.68,318.95 L280.25,318.95 L281.82,318.94 L283.39,318.94 L284.96,318.94 L286.53,318.94 L288.10,318.94 L289.67,318.94 L291.24,318.94 L292.81,318.93 L294.38,318.93 L295.95,318.93 L297.52,318.93 L299.09,318.93 L300.67,318.93 L302.24,318.93 L303.81,318.93 L305.38,318.93 L306.95,318.92 L308.52,318.92 L310.09,318.92 L311.66,318.92" fill="none" stroke="#000000" stroke-width="2" stroke-linejoin="round"/>
<path d="M38.59,320.97 L40.79,320.97 L42.99,320.97 L45.19,320.97 L47.39,320.97 L49.59,320.97 L51.80,320.97 L54.00,320.97 L56.20,320.97 L58.40,320.97 L60.60,320.97 L62.80,320.97 L65.00,320.97 L67.20,320.97 L69.40,320.98 L71.60,320.98 L73.80,320.98 L76.01,320.98 L78.21,320.98 L80.41,320.98 L82.61,320.98 L84.81,320.98 L87.01,320.98 L89.21,320.98 L91.41,320.99 L93.61,320.99 L95.81,320.99 L98.01,320.99 L100.22,320.99 L102.42,321.00 L104.62,321.00 L106.82,318.95 L109.02,318.95 L111.22,318.95 L113.42,318.96 L115.62,318.96 L117.82,318.96 L120.02,318.97 L122.22,318.97 L124.43,318.98 L126.63,318.99 L128.83,318.99 L131.03,319.00 L133.23,319.01 L135.43,319.02 L137.63,319.04 L139.83,319.05 L142.03,319.07 L144.23,319.09 L146.43,319.12 L148.64,319.15 L150.84,319.19 L153.04,319.24 L155.24,319.30 L157.44,319.38 L159.64,319.49 L161.84,319.64 L164.04,319.86 L166.24,320.19 L168.44,320.72 L168.44,320.72 L168.50,320.73 L168.56,320.75 L168.62,320.77 L168.68,320.79 L168.73,320.81 L168.79,320.83 L168.85,320.85 L168.91,320.87 L168.97,320.89 L169.03,320.91 L169.08,320.93 L169.14,320.95 L169.20,320.98 L169.26,321.00 L169.32,321.02 L169.38,321.04 L169.43,321.07 L169.49,321.09 L169.55,321.11 L169.61,321.14 L169.67,321.16 L169.72,321.19 L169.78,321.21 L169.84,321.24 L169.90,321.27 L169.96,321.29 L170.02,321.32 L170.07,321.35 L170.13,321.38 L170.19,321.41 L170.25,321.44 L170.31,321.47 L170.37,321.50 L170.42,321.53 L170.48,321.56 L170.54,321.59 L170.60,321.62 L170.66,321.66 L170.72,321.69 L170.77,321.73 L170.83,321.76 L170.89,321.80 L170.95,321.83 L171.01,321.87 L171.06,321.91 L171.12,321.95 L171.18,321.99 L171.24,322.03 L171.30,322.07 L171.36,322.11 L171.41,322.15 L171.47,322.20 L171.53,322.24 L171.59,322.29 L171.65,322.33 L171.71,322.38 L171.76,322.43 L171.82,322.48 L171.88,322.53 L171.94,322.58 L172.00,322.63 L172.05,322.69 L172.11,322.74 L172.17,322.80 L172.23,322.85 L172.29,322.91 L172.35,322.97 L172.40,323.03 L172.46,323.09 L172.52,323.16 L172.58,323.22 L172.64,323.29 L172.70,323.36 L172.75,323.43 L172.81,323.50 L172.87,323.57 L172.93,323.65 L172.99,323.72 L173.04,323.80 L173.10,323.88 L173.16,323.96 L173.22,324.05 L173.28,324.13 L173.34,324.22 L173.39,324.31 L173.45,324.41 L173.51,324.50 L173.57,324.60 L173.63,324.70 L173.69,324.81 L173.74,324.91 L173.80,325.02 L173.86,325.13 L173.92,325.25 L173.98,325.37 L174.04,325.49 L174.09,325.61 L174.15,325.74 L174.21,325.87 L174.27,326.01 L174.33,326.15 L174.38,326.29 L174.44,326.44 L174.50,326.59 L174.56,326.75 L174.62,326.91 L174.68,327.08 L174.73,327.25 L174.79,327.43 L174.85,327.61 L174.91,327.80 L174.97,328.00 L175.03,328.20 L175.08,328.41 L175.14,328.62 L175.20,328.85 L175.26,329.08 L175.32,329.32 L175.37,329.56 L175.43,329.82 L175.49,330.08 L175.55,330.36 L175.61,330.64 L175.67,330.94 L175.72,331.24 L175.78,331.56 L175.84,331.89 L175.90,332.23 L175.96,332.58 L176.02,332.95 L176.07,333.34 L176.13,333.74 L176.19,334.15 L176.25,334.59 L176.31,335.04 L176.36,335.51 L176.42,336.00 L176.48,336.51 L176.54,337.04 L176.60,337.60 L176.66,338.19 L176.71,338.80 L176.77,339.44 L176.83,340.10 L176.89,340.80 L176.95,341.54 L177.01,342.31 L177.06,343.12 L177.12,343.97 L177.18,344.86 L177.24,345.80 L177.30,346.78 L177.36,347.82 L177.41,348.92 L177.47,350.07 L177.53,351.29 L177.59,352.58 L177.65,353.94 L177.70,355.37 L177.76,356.89 L177.82,358.50 L177.88,360.21 L177.94,362.02 L178.00,363.93 L178.05,365.97 L178.11,368.13 L178.17,370.42 L178.23,372.86 L178.29,375.46 L178.35,378.22 L178.40,381.16 L178.46,384.28 L178.52,387.61 L178.58,391.15 L178.64,394.91 L178.69,398.91 L178.75,403.17 L178.81,407.68 L178.87,412.47 L178.93,417.53 L178.99,422.87 L179.04,428.49 L179.10,434.40 L179.16,440.56 L179.22,446.97 L179.28,453.59 L179.34,460.39 L179.39,467.30 L179.45,474.25 L179.51,481.16 L179.57,487.93 L179.63,494.44 L179.68,500.57 L179.74,506.16 L179.80,511.10 L179.86,515.24 L179.92,518.46 L179.98,520.67 L180.03,521.79 L180.09,521.79 L180.15,520.67 L180.21,518.46 L180.27,515.24 L180.33,511.10 L180.38,506.16 L180.44,500.57 L180.50,494.44 L180.56,487.93 L180.62,481.16 L180.68,474.25 L180.73,467.30 L180.79,460.39 L180.85,453.59 L180.91,446.97 L180.97,440.56 L181.02,434.40 L181.08,428.49 L181.14,422.87 L181.20,417.53 L181.26,412.47 L181.32,407.68 L181.37,403.17 L181.43,398.91 L181.49,394.91 L181.55,391.15 L181.61,387.61 L181.67,384.28 L181.72,381.16 L181.78,378.22 L181.84,375.46 L181.90,372.86 L181.96,370.42 L182.01,368.13 L182.07,365.97 L182.13,363.93 L182.19,362.02 L182.25,360.21 L182.31,358.50 L182.36,356.89 L182.42,355.37 L182.48,353.94 L182.54,352.58 L182.60,351.29 L182.66,350.07 L182.71,348.92 L182.77,347.82 L182.83,346.78 L182.89,345.80 L182.95,344.86 L183.00,343.97 L183.06,343.12 L183.12,342.31 L183.18,341.54 L183.24,340.80 L183.30,340.10 L183.35,339.44 L183.41,338.80 L183.47,338.19 L183.53,337.60 L183.59,337.04 L183.65,336.51 L183.70,336.00 L183.76,335.51 L183.82,335.04 L183.88,334.59 L183.94,334.15 L184.00,333.74 L184.05,333.34 L184.11,332.95 L184.17,332.58 L184.23,332.23 L184.29,331.89 L184.34,331.56 L184.40,331.24 L184.46,330.94 L184.52,330.64 L184.58,330.36 L184.64,330.08 L184.69,329.82 L184.75,329.56 L184.81,329.32 L184.87,329.08 L184.93,328.85 L184.99,328.62 L185.04,328.41 L185.10,328.20 L185.16,328.00 L185.22,327.80 L185.28,327.61 L185.33,327.43 L185.39,327.25 L185.45,327.08 L185.51,326.91 L185.57,326.75 L185.63,326.59 L185.68,326.44 L185.74,326.29 L185.80,326.15 L185.86,326.01 L185.92,325.87 L185.98,325.74 L186.03,325.61 L186.09,325.49 L186.15,325.37 L186.21,325.25 L186.27,325.13 L186.32,325.02 L186.38,324.91 L186.44,324.81 L186.50,324.70 L186.56,324.60 L186.62,324.50 L186.67,324.41 L186.73,324.31 L186.79,324.22 L186.85,324.13 L186.91,324.05 L186.97,323.96 L187.02,323.88 L187.08,323.80 L187.14,323.72 L187.20,323.65 L187.26,323.57 L187.32,323.50 L187.37,323.43 L187.43,323.36 L187.49,323.29 L187.55,323.22 L187.61,323.16 L187.66,323.09 L187.72,323.03 L187.78,322.97 L187.84,322.91 L187.90,322.85 L187.96,322.80 L188.01,322.74 L188.07,322.69 L188.13,322.63 L188.19,322.58 L188.25,322.53 L188.31,322.48 L188.36,322.43 L188.42,322.38 L188.48,322.33 L188.54,322.29 L188.60,322.24 L188.65,322.20 L188.71,322.15 L188.77,322.11 L188.83,322.07 L188.89,322.03 L188.95,321.99 L189.00,321.95 L189.06,321.91 L189.12,321.87 L189.18,321.83 L189.24,321.80 L189.30,321.76 L189.35,321.73 L189.41,321.69 L189.47,321.66 L189.53,321.62 L189.59,321.59 L189.64,321.56 L189.70,321.53 L189.76,321.50 L189.82,321.47 L189.88,321.44 L189.94,321.41 L189.99,321.38 L190.05,321.35 L190.11,321.32 L190.17,321.29 L190.23,321.27 L190.29,321.24 L190.34,321.21 L190.40,321.19 L190.46,321.16 L190.52,321.14 L190.58,321.11 L190.64,321.09 L190.69,321.07 L190.75,321.04 L190.81,321.02 L190.87,321.00 L190.93,320.98 L190.98,320.95 L191.04,320.93 L191.10,320.91 L191.16,320.89 L191.22,320.87 L191.28,320.85 L191.33,320.83 L191.39,320.81 L191.45,320.79 L191.51,320.77 L191.57,320.75 L191.63,320.73 L191.68,320.72 L191.68,320.72 L193.72,320.22 L195.75,319.90 L197.78,319.68 L199.82,319.53 L201.85,319.42 L203.88,319.34 L205.92,319.27 L207.95,319.22 L209.99,319.18 L212.02,319.14 L214.05,319.11 L216.09,319.09 L218.12,319.07 L220.15,319.05 L222.19,319.04 L224.22,319.03 L226.25,319.02 L228.29,319.01 L230.32,319.00 L232.35,318.99 L234.39,318.98 L236.42,318.98 L238.45,318.97 L240.49,318.97 L242.52,318.96 L244.55,318.96 L246.59,318.96 L248.62,318.95 L250.65,318.95 L252.69,318.95 L254.72,318.94 L256.76,318.94 L258.79,318.94 L260.82,318.94 L262.86,318.94 L264.89,318.93 L266.92,318.93 L268.96,318.93 L270.99,318.93 L273.02,318.93 L275.06,318.93 L277.09,318.93 L279.12,318.93 L281.16,318.92 L283.19,318.92 L285.22,318.92 L287.26,318.92 L289.29,318.92 L291.32,318.92 L293.36,318.92 L295.39,318.92 L297.43,318.92 L299.46,318.92 L301.49,318.92 L303.53,318.92 L305.56,318.92 L307.59,318.92 L309.63,318.91 L311.66,318.91" fill="none" stroke="#ff0000" stroke-width="2" stroke-linejoin="round"/>
<path d="M38.59,320.36 L40.37,320.36 L42.14,320.36 L43.92,320.36 L45.70,320.36 L47.48,320.36 L49.25,320.36 L51.03,320.36 L52.81,320.36 L54.59,320.36 L56.36,320.36 L58.14,320.37 L59.92,320.37 L61.70,320.37 L63.47,320.37 L65.25,320.37 L67.03,320.37 L68.81,320.37 L70.58,320.37 L72.36,320.37 L74.14,320.38 L75.92,320.38 L77.69,320.38 L79.47,320.38 L81.25,320.38 L83.03,320.39 L84.80,320.39 L86.58,320.39 L88.36,320.39 L90.14,320.40 L91.91,320.40 L93.69,320.40 L95.47,320.41 L97.25,320.41 L99.02,320.42 L100.80,320.42 L102.58,320.43 L104.36,320.44 L106.13,319.00 L107.91,319.01 L109.69,319.02 L111.47,319.03 L113.24,319.04 L115.02,319.06 L116.80,319.07 L118.58,319.09 L120.35,319.11 L122.13,319.13 L123.91,319.16 L125.69,319.19 L127.46,319.23 L129.24,319.27 L131.02,319.33 L132.80,319.40 L134.57,319.49 L136.35,319.61 L138.13,319.76 L139.91,319.98 L141.68,320.28 L143.46,320.73 L143.46,320.73 L143.52,320.75 L143.58,320.77 L143.64,320.78 L143.69,320.80 L143.75,320.82 L143.81,320.84 L143.87,320.86 L143.93,320.88 L143.98,320.90 L144.04,320.93 L144.10,320.95 L144.16,320.97 L144.22,320.99 L144.28,321.01 L144.33,321.04 L144.39,321.06 L144.45,321.08 L144.51,321.11 L144.57,321.13 L144.63,321.15 L144.68,321.18 L144.74,321.20 L144.80,321.23 L144.86,321.26 L144.92,321.28 L144.97,321.31 L145.03,321.34 L145.09,321.37 L145.15,321.40 L145.21,321.42 L145.27,321.45 L145.32,321.48 L145.38,321.52 L145.44,321.55 L145.50,321.58 L145.56,321.61 L145.62,321.64 L145.67,321.68 L145.73,321.71 L145.79,321.75 L145.85,321.78 L145.91,321.82 L145.97,321.86 L146.02,321.89 L146.08,321.93 L146.14,321.97 L146.20,322.01 L146.26,322.05 L146.31,322.09 L146.37,322.13 L146.43,322.18 L146.49,322.22 L146.55,322.27 L146.61,322.31 L146.66,322.36 L146.72,322.41 L146.78,322.45 L146.84,322.50 L146.90,322.55 L146.96,322.61 L147.01,322.66 L147.07,322.71 L147.13,322.77 L147.19,322.82 L147.25,322.88 L147.30,322.94 L147.36,323.00 L147.42,323.06 L147.48,323.12 L147.54,323.19 L147.60,323.25 L147.65,323.32 L147.71,323.39 L147.77,323.46 L147.83,323.53 L147.89,323.60 L147.95,323.68 L148.00,323.76 L148.06,323.84 L148.12,323.92 L148.18,324.00 L148.24,324.08 L148.29,324.17 L148.35,324.26 L148.41,324.35 L148.47,324.45 L148.53,324.54 L148.59,324.64 L148.64,324.74 L148.70,324.85 L148.76,324.95 L148.82,325.06 L148.88,325.18 L148.94,325.29 L148.99,325.41 L149.05,325.53 L149.11,325.66 L149.17,325.79 L149.23,325.92 L149.29,326.06 L149.34,326.20 L149.40,326.34 L149.46,326.49 L149.52,326.65 L149.58,326.81 L149.63,326.97 L149.69,327.14 L149.75,327.31 L149.81,327.49 L149.87,327.68 L149.93,327.87 L149.98,328.06 L150.04,328.27 L150.10,328.48 L150.16,328.69 L150.22,328.92 L150.28,329.15 L150.33,329.39 L150.39,329.64 L150.45,329.90 L150.51,330.16 L150.57,330.44 L150.62,330.72 L150.68,331.02 L150.74,331.33 L150.80,331.65 L150.86,331.98 L150.92,332.32 L150.97,332.68 L151.03,333.05 L151.09,333.44 L151.15,333.84 L151.21,334.26 L151.27,334.70 L151.32,335.15 L151.38,335.62 L151.44,336.12 L151.50,336.63 L151.56,337.17 L151.61,337.73 L151.67,338.32 L151.73,338.94 L151.79,339.58 L151.85,340.25 L151.91,340.96 L151.96,341.70 L152.02,342.47 L152.08,343.29 L152.14,344.14 L152.20,345.04 L152.26,345.99 L152.31,346.98 L152.37,348.03 L152.43,349.13 L152.49,350.29 L152.55,351.52 L152.61,352.82 L152.66,354.19 L152.72,355.63 L152.78,357.16 L152.84,358.78 L152.90,360.50 L152.95,362.32 L153.01,364.25 L153.07,366.30 L153.13,368.48 L153.19,370.79 L153.25,373.25 L153.30,375.86 L153.36,378.64 L153.42,381.60 L153.48,384.74 L153.54,388.09 L153.60,391.66 L153.65,395.45 L153.71,399.48 L153.77,403.76 L153.83,408.31 L153.89,413.13 L153.94,418.23 L154.00,423.61 L154.06,429.27 L154.12,435.21 L154.18,441.42 L154.24,447.88 L154.29,454.55 L154.35,461.39 L154.41,468.35 L154.47,475.35 L154.53,482.31 L154.59,489.13 L154.64,495.69 L154.70,501.85 L154.76,507.49 L154.82,512.46 L154.88,516.63 L154.93,519.88 L154.99,522.10 L155.05,523.23 L155.11,523.23 L155.17,522.10 L155.23,519.88 L155.28,516.63 L155.34,512.46 L155.40,507.49 L155.46,501.85 L155.52,495.69 L155.58,489.13 L155.63,482.31 L155.69,475.35 L155.75,468.35 L155.81,461.39 L155.87,454.55 L155.93,447.88 L155.98,441.42 L156.04,435.21 L156.10,429.27 L156.16,423.61 L156.22,418.23 L156.27,413.13 L156.33,408.31 L156.39,403.76 L156.45,399.48 L156.51,395.45 L156.57,391.66 L156.62,388.09 L156.68,384.74 L156.74,381.60 L156.80,378.64 L156.86,375.86 L156.92,373.25 L156.97,370.79 L157.03,368.48 L157.09,366.30 L157.15,364.25 L157.21,362.32 L157.26,360.50 L157.32,358.78 L157.38,357.16 L157.44,355.63 L157.50,354.19 L157.56,352.82 L157.61,351.52 L157.67,350.29 L157.73,349.13 L157.79,348.03 L157.85,346.98 L157.91,345.99 L157.96,345.04 L158.02,344.14 L158.08,343.29 L158.14,342.47 L158.20,341.70 L158.25,340.96 L158.31,340.25 L158.37,339.58 L158.43,338.94 L158.49,338.32 L158.55,337.73 L158.60,337.17 L158.66,336.63 L158.72,336.12 L158.78,335.62 L158.84,335.15 L158.90,334.70 L158.95,334.26 L159.01,333.84 L159.07,333.44 L159.13,333.05 L159.19,332.68 L159.25,332.32 L159.30,331.98 L159.36,331.65 L159.42,331.33 L159.48,331.02 L159.54,330.72 L159.59,330.44 L159.65,330.16 L159.71,329.90 L159.77,329.64 L159.83,329.39 L159.89,329.15 L159.94,328.92 L160.00,328.69 L160.06,328.48 L160.12,328.27 L160.18,328.06 L160.24,327.87 L160.29,327.68 L160.35,327.49 L160.41,327.31 L160.47,327.14 L160.53,326.97 L160.58,326.81 L160.64,326.65 L160.70,326.49 L160.76,326.34 L160.82,326.20 L160.88,326.06 L160.93,325.92 L160.99,325.79 L161.05,325.66 L161.11,325.53 L161.17,325.41 L161.23,325.29 L161.28,325.18 L161.34,325.06 L161.40,324.95 L161.46,324.85 L161.52,324.74 L161.57,324.64 L161.63,324.54 L161.69,324.45 L161.75,324.35 L161.81,324.26 L161.87,324.17 L161.92,324.08 L161.98,324.00 L162.04,323.92 L162.10,323.84 L162.16,323.76 L162.22,323.68 L162.27,323.60 L162.33,323.53 L162.39,323.46 L162.45,323.39 L162.51,323.32 L162.57,323.25 L162.62,323.19 L162.68,323.12 L162.74,323.06 L162.80,323.00 L162.86,322.94 L162.91,322.88 L162.97,322.82 L163.03,322.77 L163.09,322.71 L163.15,322.66 L163.21,322.61 L163.26,322.55 L163.32,322.50 L163.38,322.45 L163.44,322.41 L163.50,322.36 L163.56,322.31 L163.61,322.27 L163.67,322.22 L163.73,322.18 L163.79,322.13 L163.85,322.09 L163.90,322.05 L163.96,322.01 L164.02,321.97 L164.08,321.93 L164.14,321.89 L164.20,321.86 L164.25,321.82 L164.31,321.78 L164.37,321.75 L164.43,321.71 L164.49,321.68 L164.55,321.64 L164.60,321.61 L164.66,321.58 L164.72,321.55 L164.78,321.52 L164.84,321.48 L164.89,321.45 L164.95,321.42 L165.01,321.40 L165.07,321.37 L165.13,321.34 L165.19,321.31 L165.24,321.28 L165.30,321.26 L165.36,321.23 L165.42,321.20 L165.48,321.18 L165.54,321.15 L165.59,321.13 L165.65,321.11 L165.71,321.08 L165.77,321.06 L165.83,321.04 L165.89,321.01 L165.94,320.99 L166.00,320.97 L166.06,320.95 L166.12,320.93 L166.18,320.90 L166.23,320.88 L166.29,320.86 L166.35,320.84 L166.41,320.82 L166.47,320.80 L166.53,320.78 L166.58,320.77 L166.64,320.75 L166.70,320.73 L166.70,320.73 L169.16,320.15 L171.61,319.81 L174.07,319.59 L176.53,319.44 L178.99,319.34 L181.44,319.26 L183.90,319.20 L186.36,319.15 L188.81,319.12 L191.27,319.09 L193.73,319.07 L196.18,319.05 L198.64,319.03 L201.10,319.02 L203.55,319.01 L206.01,319.00 L208.47,318.99 L210.93,318.98 L213.38,318.97 L215.84,318.97 L218.30,318.96 L220.75,318.96 L223.21,318.95 L225.67,318.95 L228.12,318.95 L230.58,318.94 L233.04,318.94 L235.49,318.94 L237.95,318.94 L240.41,318.93 L242.87,318.93 L245.32,318.93 L247.78,318.93 L250.24,318.93 L252.69,318.93 L255.15,318.92 L257.61,318.92 L260.06,318.92 L262.52,318.92 L264.98,318.92 L267.44,318.92 L269.89,318.92 L272.35,318.92 L274.81,318.92 L277.26,318.92 L279.72,318.92 L282.18,318.92 L284.63,318.91 L287.09,318.91 L289.55,318.91 L292.00,318.91 L294.46,318.91 L296.92,318.91 L299.38,318.91 L301.83,318.91 L304.29,318.91 L306.75,318.91 L309.20,318.91 L311.66,318.91" fill="none" stroke="#0000ff" stroke-width="2" stroke-linejoin="round"/>
<path d="M38.59,319.75 L40.12,319.75 L41.65,319.75 L43.18,319.75 L44.72,319.75 L46.25,319.75 L47.78,319.75 L49.31,319.75 L50.84,319.75 L52.37,319.75 L53.90,319.76 L55.43,319.76 L56.97,319.76 L58.50,319.76 L60.03,319.76 L61.56,319.76 L63.09,319.76 L64.62,319.77 L66.15,319.77 L67.68,319.77 L69.22,319.77 L70.75,319.77 L72.28,319.78 L73.81,319.78 L75.34,319.78 L76.87,319.78 L78.40,319.79 L79.93,319.79 L81.47,319.79 L83.00,319.80 L84.53,319.80 L86.06,319.81 L87.59,319.81 L89.12,319.82 L90.65,319.82 L92.18,319.83 L93.72,319.84 L95.25,319.84 L96.78,319.85 L98.31,319.86 L99.84,319.87 L101.37,319.88 L102.90,319.90 L104.44,319.91 L105.97,319.93 L107.50,319.13 L109.03,319.15 L110.56,319.18 L112.09,319.21 L113.62,319.24 L115.15,319.29 L116.69,319.34 L118.22,319.40 L119.75,319.48 L121.28,319.57 L122.81,319.69 L124.34,319.85 L125.87,320.06 L127.40,320.34 L128.94,320.74 L128.94,320.74 L128.99,320.76 L129.05,320.78 L129.11,320.79 L129.17,320.81 L129.23,320.83 L129.28,320.85 L129.34,320.87 L129.40,320.89 L129.46,320.91 L129.52,320.94 L129.58,320.96 L129.63,320.98 L129.69,321.00 L129.75,321.02 L129.81,321.05 L129.87,321.07 L129.93,321.09 L129.98,321.12 L130.04,321.14 L130.10,321.17 L130.16,321.19 L130.22,321.22 L130.28,321.24 L130.33,321.27 L130.39,321.30 L130.45,321.32 L130.51,321.35 L130.57,321.38 L130.62,321.41 L130.68,321.44 L130.74,321.47 L130.80,321.50 L130.86,321.53 L130.92,321.56 L130.97,321.59 L131.03,321.62 L131.09,321.66 L131.15,321.69 L131.21,321.73 L131.27,321.76 L131.32,321.80 L131.38,321.83 L131.44,321.87 L131.50,321.91 L131.56,321.95 L131.61,321.99 L131.67,322.03 L131.73,322.07 L131.79,322.11 L131.85,322.15 L131.91,322.19 L131.96,322.24 L132.02,322.28 L132.08,322.33 L132.14,322.38 L132.20,322.42 L132.26,322.47 L132.31,322.52 L132.37,322.57 L132.43,322.62 L132.49,322.68 L132.55,322.73 L132.60,322.79 L132.66,322.84 L132.72,322.90 L132.78,322.96 L132.84,323.02 L132.90,323.08 L132.95,323.14 L133.01,323.21 L133.07,323.28 L133.13,323.34 L133.19,323.41 L133.25,323.48 L133.30,323.55 L133.36,323.63 L133.42,323.70 L133.48,323.78 L133.54,323.86 L133.60,323.94 L133.65,324.03 L133.71,324.11 L133.77,324.20 L133.83,324.29 L133.89,324.38 L133.94,324.47 L134.00,324.57 L134.06,324.67 L134.12,324.77 L134.18,324.88 L134.24,324.98 L134.29,325.09 L134.35,325.21 L134.41,325.32 L134.47,325.44 L134.53,325.57 L134.59,325.69 L134.64,325.82 L134.70,325.96 L134.76,326.09 L134.82,326.24 L134.88,326.38 L134.93,326.53 L134.99,326.69 L135.05,326.85 L135.11,327.01 L135.17,327.18 L135.23,327.35 L135.28,327.53 L135.34,327.72 L135.40,327.91 L135.46,328.11 L135.52,328.31 L135.58,328.52 L135.63,328.74 L135.69,328.97 L135.75,329.20 L135.81,329.44 L135.87,329.69 L135.92,329.95 L135.98,330.22 L136.04,330.50 L136.10,330.78 L136.16,331.08 L136.22,331.39 L136.27,331.71 L136.33,332.04 L136.39,332.39 L136.45,332.75 L136.51,333.12 L136.57,333.51 L136.62,333.92 L136.68,334.34 L136.74,334.78 L136.80,335.23 L136.86,335.71 L136.92,336.21 L136.97,336.72 L137.03,337.26 L137.09,337.83 L137.15,338.42 L137.21,339.04 L137.26,339.68 L137.32,340.36 L137.38,341.07 L137.44,341.81 L137.50,342.59 L137.56,343.41 L137.61,344.27 L137.67,345.17 L137.73,346.12 L137.79,347.12 L137.85,348.17 L137.91,349.28 L137.96,350.45 L138.02,351.69 L138.08,352.99 L138.14,354.36 L138.20,355.82 L138.25,357.36 L138.31,358.99 L138.37,360.71 L138.43,362.54 L138.49,364.48 L138.55,366.54 L138.60,368.73 L138.66,371.05 L138.72,373.52 L138.78,376.15 L138.84,378.94 L138.90,381.91 L138.95,385.08 L139.01,388.44 L139.07,392.02 L139.13,395.83 L139.19,399.89 L139.24,404.19 L139.30,408.76 L139.36,413.60 L139.42,418.72 L139.48,424.13 L139.54,429.83 L139.59,435.80 L139.65,442.04 L139.71,448.53 L139.77,455.23 L139.83,462.11 L139.89,469.10 L139.94,476.14 L140.00,483.14 L140.06,489.99 L140.12,496.58 L140.18,502.77 L140.24,508.44 L140.29,513.43 L140.35,517.62 L140.41,520.89 L140.47,523.12 L140.53,524.26 L140.58,524.26 L140.64,523.12 L140.70,520.89 L140.76,517.62 L140.82,513.43 L140.88,508.44 L140.93,502.77 L140.99,496.58 L141.05,489.99 L141.11,483.14 L141.17,476.14 L141.23,469.10 L141.28,462.11 L141.34,455.23 L141.40,448.53 L141.46,442.04 L141.52,435.80 L141.57,429.83 L141.63,424.13 L141.69,418.72 L141.75,413.60 L141.81,408.76 L141.87,404.19 L141.92,399.89 L141.98,395.83 L142.04,392.02 L142.10,388.44 L142.16,385.08 L142.22,381.91 L142.27,378.94 L142.33,376.15 L142.39,373.52 L142.45,371.05 L142.51,368.73 L142.56,366.54 L142.62,364.48 L142.68,362.54 L142.74,360.71 L142.80,358.99 L142.86,357.36 L142.91,355.82 L142.97,354.36 L143.03,352.99 L143.09,351.69 L143.15,350.45 L143.21,349.28 L143.26,348.17 L143.32,347.12 L143.38,346.12 L143.44,345.17 L143.50,344.27 L143.56,343.41 L143.61,342.59 L143.67,341.81 L143.73,341.07 L143.79,340.36 L143.85,339.68 L143.90,339.04 L143.96,338.42 L144.02,337.83 L144.08,337.26 L144.14,336.72 L144.20,336.21 L144.25,335.71 L144.31,335.23 L144.37,334.78 L144.43,334.34 L144.49,333.92 L144.55,333.51 L144.60,333.12 L144.66,332.75 L144.72,332.39 L144.78,332.04 L144.84,331.71 L144.89,331.39 L144.95,331.08 L145.01,330.78 L145.07,330.50 L145.13,330.22 L145.19,329.95 L145.24,329.69 L145.30,329.44 L145.36,329.20 L145.42,328.97 L145.48,328.74 L145.54,328.52 L145.59,328.31 L145.65,328.11 L145.71,327.91 L145.77,327.72 L145.83,327.53 L145.88,327.35 L145.94,327.18 L146.00,327.01 L146.06,326.85 L146.12,326.69 L146.18,326.53 L146.23,326.38 L146.29,326.24 L146.35,326.09 L146.41,325.96 L146.47,325.82 L146.53,325.69 L146.58,325.57 L146.64,325.44 L146.70,325.32 L146.76,325.21 L146.82,325.09 L146.88,324.98 L146.93,324.88 L146.99,324.77 L147.05,324.67 L147.11,324.57 L147.17,324.47 L147.22,324.38 L147.28,324.29 L147.34,324.20 L147.40,324.11 L147.46,324.03 L147.52,323.94 L147.57,323.86 L147.63,323.78 L147.69,323.70 L147.75,323.63 L147.81,323.55 L147.87,323.48 L147.92,323.41 L147.98,323.34 L148.04,323.28 L148.10,323.21 L148.16,323.14 L148.21,323.08 L148.27,323.02 L148.33,322.96 L148.39,322.90 L148.45,322.84 L148.51,322.79 L148.56,322.73 L148.62,322.68 L148.68,322.62 L148.74,322.57 L148.80,322.52 L148.86,322.47 L148.91,322.42 L148.97,322.38 L149.03,322.33 L149.09,322.28 L149.15,322.24 L149.20,322.19 L149.26,322.15 L149.32,322.11 L149.38,322.07 L149.44,322.03 L149.50,321.99 L149.55,321.95 L149.61,321.91 L149.67,321.87 L149.73,321.83 L149.79,321.80 L149.85,321.76 L149.90,321.73 L149.96,321.69 L150.02,321.66 L150.08,321.62 L150.14,321.59 L150.20,321.56 L150.25,321.53 L150.31,321.50 L150.37,321.47 L150.43,321.44 L150.49,321.41 L150.54,321.38 L150.60,321.35 L150.66,321.32 L150.72,321.30 L150.78,321.27 L150.84,321.24 L150.89,321.22 L150.95,321.19 L151.01,321.17 L151.07,321.14 L151.13,321.12 L151.19,321.09 L151.24,321.07 L151.30,321.05 L151.36,321.02 L151.42,321.00 L151.48,320.98 L151.53,320.96 L151.59,320.94 L151.65,320.91 L151.71,320.89 L151.77,320.87 L151.83,320.85 L151.88,320.83 L151.94,320.81 L152.00,320.79 L152.06,320.78 L152.12,320.76 L152.18,320.74 L152.18,320.74 L154.88,320.11 L157.58,319.76 L160.28,319.54 L162.99,319.40 L165.69,319.30 L168.39,319.22 L171.10,319.17 L173.80,319.13 L176.50,319.09 L179.21,319.07 L181.91,319.05 L184.61,319.03 L187.32,319.01 L190.02,319.00 L192.72,318.99 L195.43,318.98 L198.13,318.98 L200.83,318.97 L203.53,318.96 L206.24,318.96 L208.94,318.95 L211.64,318.95 L214.35,318.95 L217.05,318.94 L219.75,318.94 L222.46,318.94 L225.16,318.93 L227.86,318.93 L230.57,318.93 L233.27,318.93 L235.97,318.93 L238.68,318.93 L241.38,318.92 L244.08,318.92 L246.78,318.92 L249.49,318.92 L252.19,318.92 L254.89,318.92 L257.60,318.92 L260.30,318.92 L263.00,318.92 L265.71,318.92 L268.41,318.92 L271.11,318.91 L273.82,318.91 L276.52,318.91 L279.22,318.91 L281.93,318.91 L284.63,318.91 L287.33,318.91 L290.03,318.91 L292.74,318.91 L295.44,318.91 L298.14,318.91 L300.85,318.91 L303.55,318.91 L306.25,318.91 L308.96,318.91 L311.66,318.91" fill="none" stroke="#00cc00" stroke-width="2" stroke-linejoin="round"/>
<path d="M38.59,320.99 L39.81,320.99 L41.04,320.99 L42.26,320.99 L43.48,320.99 L44.71,321.00 L45.93,321.00 L47.15,321.00 L48.37,321.00 L49.60,321.00 L50.82,321.00 L52.04,321.00 L53.27,321.01 L54.49,321.01 L55.71,321.01 L56.94,321.01 L58.16,321.01 L59.38,321.02 L60.60,321.02 L61.83,321.02 L63.05,321.02 L64.27,321.03 L65.50,321.03 L66.72,321.03 L67.94,321.04 L69.17,321.04 L70.39,321.05 L71.61,321.05 L72.84,321.06 L74.06,321.06 L75.28,321.07 L76.50,321.07 L77.73,321.08 L78.95,321.09 L80.17,321.09 L81.40,321.10 L82.62,321.11 L83.84,321.12 L85.07,321.13 L86.29,321.14 L87.51,321.16 L88.74,321.17 L89.96,321.19 L91.18,321.21 L92.40,321.23 L93.63,321.25 L94.85,321.28 L96.07,321.31 L97.30,321.35 L98.52,321.39 L99.74,321.43 L100.97,321.49 L102.19,321.56 L103.41,321.64 L104.63,321.73 L105.86,321.85 L107.08,319.95 L108.30,320.14 L109.53,320.38 L110.75,320.71 L110.75,320.71 L110.81,320.72 L110.87,320.74 L110.92,320.76 L110.98,320.78 L111.04,320.80 L111.10,320.82 L111.16,320.84 L111.22,320.86 L111.27,320.88 L111.33,320.90 L111.39,320.92 L111.45,320.94 L111.51,320.96 L111.57,320.99 L111.62,321.01 L111.68,321.03 L111.74,321.06 L111.80,321.08 L111.86,321.10 L111.92,321.13 L111.97,321.15 L112.03,321.18 L112.09,321.20 L112.15,321.23 L112.21,321.26 L112.26,321.28 L112.32,321.31 L112.38,321.34 L112.44,321.37 L112.50,321.39 L112.56,321.42 L112.61,321.45 L112.67,321.48 L112.73,321.51 L112.79,321.55 L112.85,321.58 L112.91,321.61 L112.96,321.64 L113.02,321.68 L113.08,321.71 L113.14,321.75 L113.20,321.78 L113.25,321.82 L113.31,321.86 L113.37,321.89 L113.43,321.93 L113.49,321.97 L113.55,322.01 L113.60,322.05 L113.66,322.10 L113.72,322.14 L113.78,322.18 L113.84,322.23 L113.90,322.27 L113.95,322.32 L114.01,322.36 L114.07,322.41 L114.13,322.46 L114.19,322.51 L114.24,322.56 L114.30,322.61 L114.36,322.67 L114.42,322.72 L114.48,322.78 L114.54,322.83 L114.59,322.89 L114.65,322.95 L114.71,323.01 L114.77,323.07 L114.83,323.14 L114.89,323.20 L114.94,323.27 L115.00,323.33 L115.06,323.40 L115.12,323.48 L115.18,323.55 L115.24,323.62 L115.29,323.70 L115.35,323.78 L115.41,323.86 L115.47,323.94 L115.53,324.02 L115.58,324.11 L115.64,324.20 L115.70,324.29 L115.76,324.38 L115.82,324.47 L115.88,324.57 L115.93,324.67 L115.99,324.78 L116.05,324.88 L116.11,324.99 L116.17,325.10 L116.23,325.22 L116.28,325.33 L116.34,325.45 L116.40,325.58 L116.46,325.71 L116.52,325.84 L116.57,325.97 L116.63,326.11 L116.69,326.25 L116.75,326.40 L116.81,326.55 L116.87,326.71 L116.92,326.87 L116.98,327.04 L117.04,327.21 L117.10,327.39 L117.16,327.57 L117.22,327.76 L117.27,327.95 L117.33,328.15 L117.39,328.36 L117.45,328.58 L117.51,328.80 L117.56,329.03 L117.62,329.26 L117.68,329.51 L117.74,329.76 L117.80,330.03 L117.86,330.30 L117.91,330.58 L117.97,330.87 L118.03,331.18 L118.09,331.49 L118.15,331.82 L118.21,332.16 L118.26,332.51 L118.32,332.88 L118.38,333.26 L118.44,333.66 L118.50,334.08 L118.56,334.51 L118.61,334.96 L118.67,335.42 L118.73,335.91 L118.79,336.42 L118.85,336.95 L118.90,337.51 L118.96,338.09 L119.02,338.70 L119.08,339.33 L119.14,340.00 L119.20,340.69 L119.25,341.42 L119.31,342.19 L119.37,342.99 L119.43,343.84 L119.49,344.73 L119.55,345.66 L119.60,346.64 L119.66,347.68 L119.72,348.77 L119.78,349.92 L119.84,351.13 L119.89,352.41 L119.95,353.76 L120.01,355.19 L120.07,356.70 L120.13,358.30 L120.19,360.00 L120.24,361.80 L120.30,363.71 L120.36,365.73 L120.42,367.88 L120.48,370.16 L120.54,372.59 L120.59,375.17 L120.65,377.92 L120.71,380.84 L120.77,383.95 L120.83,387.26 L120.88,390.78 L120.94,394.53 L121.00,398.51 L121.06,402.74 L121.12,407.23 L121.18,411.99 L121.23,417.03 L121.29,422.34 L121.35,427.94 L121.41,433.81 L121.47,439.95 L121.53,446.32 L121.58,452.91 L121.64,459.67 L121.70,466.55 L121.76,473.47 L121.82,480.34 L121.88,487.08 L121.93,493.56 L121.99,499.65 L122.05,505.22 L122.11,510.13 L122.17,514.24 L122.22,517.45 L122.28,519.65 L122.34,520.77 L122.40,520.77 L122.46,519.65 L122.52,517.45 L122.57,514.24 L122.63,510.13 L122.69,505.22 L122.75,499.65 L122.81,493.56 L122.87,487.08 L122.92,480.34 L122.98,473.47 L123.04,466.55 L123.10,459.67 L123.16,452.91 L123.21,446.32 L123.27,439.95 L123.33,433.81 L123.39,427.94 L123.45,422.34 L123.51,417.03 L123.56,411.99 L123.62,407.23 L123.68,402.74 L123.74,398.51 L123.80,394.53 L123.86,390.78 L123.91,387.26 L123.97,383.95 L124.03,380.84 L124.09,377.92 L124.15,375.17 L124.20,372.59 L124.26,370.16 L124.32,367.88 L124.38,365.73 L124.44,363.71 L124.50,361.80 L124.55,360.00 L124.61,358.30 L124.67,356.70 L124.73,355.19 L124.79,353.76 L124.85,352.41 L124.90,351.13 L124.96,349.92 L125.02,348.77 L125.08,347.68 L125.14,346.64 L125.20,345.66 L125.25,344.73 L125.31,343.84 L125.37,342.99 L125.43,342.19 L125.49,341.42 L125.54,340.69 L125.60,340.00 L125.66,339.33 L125.72,338.70 L125.78,338.09 L125.84,337.51 L125.89,336.95 L125.95,336.42 L126.01,335.91 L126.07,335.42 L126.13,334.96 L126.19,334.51 L126.24,334.08 L126.30,333.66 L126.36,333.26 L126.42,332.88 L126.48,332.51 L126.53,332.16 L126.59,331.82 L126.65,331.49 L126.71,331.18 L126.77,330.87 L126.83,330.58 L126.88,330.30 L126.94,330.03 L127.00,329.76 L127.06,329.51 L127.12,329.26 L127.18,329.03 L127.23,328.80 L127.29,328.58 L127.35,328.36 L127.41,328.15 L127.47,327.95 L127.52,327.76 L127.58,327.57 L127.64,327.39 L127.70,327.21 L127.76,327.04 L127.82,326.87 L127.87,326.71 L127.93,326.55 L127.99,326.40 L128.05,326.25 L128.11,326.11 L128.17,325.97 L128.22,325.84 L128.28,325.71 L128.34,325.58 L128.40,325.45 L128.46,325.33 L128.52,325.22 L128.57,325.10 L128.63,324.99 L128.69,324.88 L128.75,324.78 L128.81,324.67 L128.86,324.57 L128.92,324.47 L128.98,324.38 L129.04,324.29 L129.10,324.20 L129.16,324.11 L129.21,324.02 L129.27,323.94 L129.33,323.86 L129.39,323.78 L129.45,323.70 L129.51,323.62 L129.56,323.55 L129.62,323.48 L129.68,323.40 L129.74,323.33 L129.80,323.27 L129.85,323.20 L129.91,323.14 L129.97,323.07 L130.03,323.01 L130.09,322.95 L130.15,322.89 L130.20,322.83 L130.26,322.78 L130.32,322.72 L130.38,322.67 L130.44,322.61 L130.50,322.56 L130.55,322.51 L130.61,322.46 L130.67,322.41 L130.73,322.36 L130.79,322.32 L130.84,322.27 L130.90,322.23 L130.96,322.18 L131.02,322.14 L131.08,322.10 L131.14,322.05 L131.19,322.01 L131.25,321.97 L131.31,321.93 L131.37,321.89 L131.43,321.86 L131.49,321.82 L131.54,321.78 L131.60,321.75 L131.66,321.71 L131.72,321.68 L131.78,321.64 L131.84,321.61 L131.89,321.58 L131.95,321.55 L132.01,321.51 L132.07,321.48 L132.13,321.45 L132.18,321.42 L132.24,321.39 L132.30,321.37 L132.36,321.34 L132.42,321.31 L132.48,321.28 L132.53,321.26 L132.59,321.23 L132.65,321.20 L132.71,321.18 L132.77,321.15 L132.83,321.13 L132.88,321.10 L132.94,321.08 L133.00,321.06 L133.06,321.03 L133.12,321.01 L133.17,320.99 L133.23,320.96 L133.29,320.94 L133.35,320.92 L133.41,320.90 L133.47,320.88 L133.52,320.86 L133.58,320.84 L133.64,320.82 L133.70,320.80 L133.76,320.78 L133.82,320.76 L133.87,320.74 L133.93,320.72 L133.99,320.71 L133.99,320.71 L137.00,320.04 L140.01,319.69 L143.02,319.48 L146.04,319.34 L149.05,319.25 L152.06,319.18 L155.07,319.13 L158.08,319.09 L161.09,319.06 L164.10,319.04 L167.12,319.02 L170.13,319.01 L173.14,319.00 L176.15,318.99 L179.16,318.98 L182.17,318.97 L185.18,318.96 L188.19,318.96 L191.21,318.95 L194.22,318.95 L197.23,318.94 L200.24,318.94 L203.25,318.94 L206.26,318.93 L209.27,318.93 L212.29,318.93 L215.30,318.93 L218.31,318.93 L221.32,318.93 L224.33,318.92 L227.34,318.92 L230.35,318.92 L233.36,318.92 L236.38,318.92 L239.39,318.92 L242.40,318.92 L245.41,318.92 L248.42,318.92 L251.43,318.91 L254.44,318.91 L257.46,318.91 L260.47,318.91 L263.48,318.91 L266.49,318.91 L269.50,318.91 L272.51,318.91 L275.52,318.91 L278.54,318.91 L281.55,318.91 L284.56,318.91 L287.57,318.91 L290.58,318.91 L293.59,318.91 L296.60,318.91 L299.61,318.91 L302.63,318.91 L305.64,318.91 L308.65,318.91 L311.66,318.91" fill="none" stroke="#9900cc" stroke-width="2" stroke-linejoin="round"/>
<path d="M38.59,321.69 L40.23,321.73 L41.87,321.76 L43.51,321.80 L45.14,321.84 L46.78,321.87 L48.42,321.91 L50.06,321.95 L51.70,321.98 L53.34,322.02 L54.98,322.06 L56.62,322.10 L58.25,322.14 L59.89,322.17 L61.53,322.21 L63.17,322.25 L64.81,322.29 L66.45,322.33 L68.09,322.37 L69.73,322.41 L71.36,322.46 L73.00,322.50 L74.64,322.54 L76.28,322.59 L77.92,322.64 L79.56,322.68 L81.20,322.73 L82.84,322.79 L84.47,322.84 L86.11,322.90 L87.75,322.96 L89.39,323.03 L91.03,323.11 L92.67,323.19 L94.31,323.28 L95.95,323.39 L97.58,323.52 L99.22,323.68 L100.86,323.88 L102.50,324.14 L102.50,324.14 L102.65,324.16 L102.80,324.17 L102.94,324.17 L103.09,324.16 L103.24,324.14 L103.39,324.11 L103.53,324.07 L103.68,324.02 L103.83,323.96 L103.98,323.89 L104.12,323.81 L104.27,323.72 L104.42,323.62 L104.57,323.51 L104.72,323.39 L104.86,323.27 L105.01,323.13 L105.16,322.99 L105.31,322.83 L105.45,322.67 L105.60,322.50 L105.75,322.32 L105.90,322.13 L106.05,321.93 L106.19,321.72 L106.34,321.51 L106.49,321.29 L106.64,321.20 L106.78,321.27 L106.93,321.34 L107.08,321.42 L107.23,321.50 L107.37,321.59 L107.52,321.68 L107.67,321.77 L107.82,321.87 L107.97,321.98 L108.11,322.09 L108.26,322.21 L108.41,322.33 L108.56,322.46 L108.70,322.60 L108.85,322.74 L109.00,322.90 L109.15,323.06 L109.29,323.23 L109.44,323.42 L109.59,323.62 L109.74,323.82 L109.89,324.05 L110.03,324.29 L110.18,324.54 L110.33,324.82 L110.48,325.11 L110.62,325.43 L110.77,325.77 L110.92,326.14 L111.07,326.54 L111.21,326.97 L111.21,326.97 L111.26,327.10 L111.30,327.23 L111.34,327.37 L111.38,327.51 L111.42,327.65 L111.47,327.79 L111.51,327.94 L111.55,328.10 L111.59,328.25 L111.63,328.41 L111.67,328.58 L111.72,328.75 L111.76,328.92 L111.80,329.10 L111.84,329.28 L111.88,329.46 L111.93,329.66 L111.97,329.85 L112.01,330.06 L112.05,330.26 L112.09,330.48 L112.13,330.70 L112.18,330.92 L112.22,331.15 L112.26,331.39 L112.30,331.64 L112.34,331.89 L112.39,332.15 L112.43,332.42 L112.47,332.70 L112.51,332.98 L112.55,333.27 L112.59,333.57 L112.64,333.88 L112.68,334.20 L112.72,334.53 L112.76,334.88 L112.80,335.23 L112.84,335.59 L112.89,335.97 L112.93,336.35 L112.97,336.75 L113.01,337.17 L113.05,337.59 L113.10,338.04 L113.14,338.49 L113.18,338.97 L113.22,339.46 L113.26,339.96 L113.30,340.49 L113.35,341.03 L113.39,341.60 L113.43,342.18 L113.47,342.79 L113.51,343.42 L113.56,344.07 L113.60,344.75 L113.64,345.45 L113.68,346.18 L113.72,346.94 L113.76,347.73 L113.81,348.55 L113.85,349.41 L113.89,350.30 L113.93,351.22 L113.97,352.19 L114.02,353.19 L114.06,354.24 L114.10,355.33 L114.14,356.47 L114.18,357.66 L114.22,358.89 L114.27,360.19 L114.31,361.54 L114.35,362.95 L114.39,364.42 L114.43,365.96 L114.47,367.57 L114.52,369.25 L114.56,371.01 L114.60,372.84 L114.64,374.77 L114.68,376.78 L114.73,378.88 L114.77,381.07 L114.81,383.37 L114.85,385.77 L114.89,388.28 L114.93,390.90 L114.98,393.64 L115.02,396.49 L115.06,399.47 L115.10,402.56 L115.14,405.79 L115.19,409.14 L115.23,412.62 L115.27,416.23 L115.31,419.95 L115.35,423.80 L115.39,427.76 L115.44,431.82 L115.48,435.98 L115.52,440.22 L115.56,444.52 L115.60,448.86 L115.64,453.21 L115.69,457.57 L115.73,461.88 L115.77,466.11 L115.81,470.23 L115.85,474.20 L115.90,477.98 L115.94,481.51 L115.98,484.76 L116.02,487.68 L116.06,490.23 L116.10,492.37 L116.15,494.06 L116.19,495.28 L116.23,496.02 L116.27,496.25 L116.31,495.97 L116.36,495.19 L116.40,493.91 L116.44,492.18 L116.48,490.00 L116.52,487.41 L116.56,484.46 L116.61,481.18 L116.65,477.62 L116.69,473.83 L116.73,469.84 L116.77,465.70 L116.82,461.46 L116.86,457.14 L116.90,452.79 L116.94,448.43 L116.98,444.09 L117.02,439.80 L117.07,435.57 L117.11,431.42 L117.15,427.37 L117.19,423.42 L117.23,419.59 L117.27,415.87 L117.32,412.28 L117.36,408.81 L117.40,405.47 L117.44,402.26 L117.48,399.17 L117.53,396.21 L117.57,393.36 L117.61,390.64 L117.65,388.03 L117.69,385.53 L117.73,383.14 L117.78,380.86 L117.82,378.67 L117.86,376.58 L117.90,374.58 L117.94,372.66 L117.99,370.83 L118.03,369.08 L118.07,367.41 L118.11,365.81 L118.15,364.27 L118.19,362.81 L118.24,361.40 L118.28,360.06 L118.32,358.77 L118.36,357.54 L118.40,356.35 L118.44,355.22 L118.49,354.13 L118.53,353.09 L118.57,352.09 L118.61,351.13 L118.65,350.21 L118.70,349.32 L118.74,348.47 L118.78,347.65 L118.82,346.87 L118.86,346.11 L118.90,345.38 L118.95,344.68 L118.99,344.00 L119.03,343.35 L119.07,342.73 L119.11,342.12 L119.16,341.54 L119.20,340.98 L119.24,340.44 L119.28,339.91 L119.32,339.41 L119.36,338.92 L119.41,338.45 L119.45,337.99 L119.49,337.55 L119.53,337.13 L119.57,336.71 L119.62,336.31 L119.66,335.93 L119.70,335.55 L119.74,335.19 L119.78,334.84 L119.82,334.50 L119.87,334.17 L119.91,333.85 L119.95,333.54 L119.99,333.24 L120.03,332.95 L120.07,332.67 L120.12,332.39 L120.16,332.13 L120.20,331.87 L120.24,331.61 L120.28,331.37 L120.33,331.13 L120.37,330.90 L120.41,330.68 L120.45,330.46 L120.49,330.24 L120.53,330.04 L120.58,329.83 L120.62,329.64 L120.66,329.45 L120.70,329.26 L120.74,329.08 L120.79,328.90 L120.83,328.73 L120.87,328.56 L120.91,328.40 L120.95,328.24 L120.99,328.08 L121.04,327.93 L121.08,327.78 L121.12,327.64 L121.16,327.49 L121.20,327.36 L121.24,327.22 L121.29,327.09 L121.33,326.96 L121.37,326.84 L121.41,326.71 L121.45,326.59 L121.50,326.48 L121.54,326.36 L121.58,326.25 L121.62,326.14 L121.66,326.03 L121.70,325.93 L121.75,325.82 L121.79,325.72 L121.83,325.63 L121.87,325.53 L121.91,325.43 L121.96,325.34 L122.00,325.25 L122.04,325.16 L122.08,325.08 L122.12,324.99 L122.16,324.91 L122.21,324.83 L122.25,324.75 L122.29,324.67 L122.33,324.59 L122.37,324.52 L122.42,324.44 L122.46,324.37 L122.50,324.30 L122.54,324.23 L122.58,324.16 L122.62,324.10 L122.67,324.03 L122.71,323.97 L122.75,323.90 L122.79,323.84 L122.83,323.78 L122.87,323.72 L122.92,323.66 L122.96,323.60 L123.00,323.55 L123.04,323.49 L123.08,323.44 L123.13,323.38 L123.17,323.33 L123.21,323.28 L123.25,323.23 L123.29,323.18 L123.33,323.13 L123.38,323.08 L123.42,323.03 L123.46,322.98 L123.50,322.94 L123.54,322.89 L123.59,322.85 L123.63,322.80 L123.67,322.76 L123.71,322.72 L123.75,322.68 L123.79,322.64 L123.84,322.60 L123.88,322.56 L123.92,322.52 L123.96,322.48 L124.00,322.44 L124.04,322.40 L124.09,322.37 L124.13,322.33 L124.17,322.30 L124.21,322.26 L124.25,322.23 L124.30,322.19 L124.34,322.16 L124.38,322.13 L124.42,322.09 L124.46,322.06 L124.50,322.03 L124.55,322.00 L124.59,321.97 L124.63,321.94 L124.67,321.91 L124.71,321.88 L124.76,321.85 L124.80,321.82 L124.84,321.80 L124.88,321.77 L124.92,321.74 L124.96,321.71 L125.01,321.69 L125.05,321.66 L125.09,321.64 L125.13,321.61 L125.17,321.58 L125.22,321.56 L125.26,321.54 L125.30,321.51 L125.34,321.49 L125.38,321.46 L125.42,321.44 L125.47,321.42 L125.51,321.40 L125.55,321.37 L125.59,321.35 L125.63,321.33 L125.67,321.31 L125.72,321.29 L125.76,321.27 L125.80,321.25 L125.84,321.23 L125.88,321.21 L125.93,321.19 L125.97,321.17 L126.01,321.15 L126.05,321.13 L126.09,321.11 L126.13,321.09 L126.18,321.08 L126.22,321.06 L126.26,321.04 L126.30,321.02 L126.34,321.00 L126.39,320.99 L126.43,320.97 L126.47,320.95 L126.51,320.94 L126.55,320.92 L126.59,320.90 L126.64,320.89 L126.68,320.87 L126.72,320.86 L126.76,320.84 L126.80,320.83 L126.84,320.81 L126.89,320.80 L126.93,320.78 L126.97,320.77 L127.01,320.75 L127.05,320.74 L127.10,320.72 L127.14,320.71 L127.18,320.70 L127.22,320.68 L127.26,320.67 L127.30,320.66 L127.35,320.64 L127.39,320.63 L127.43,320.62 L127.47,320.61 L127.51,320.59 L127.56,320.58 L127.60,320.57 L127.64,320.56 L127.68,320.54 L127.72,320.53 L127.76,320.52 L127.81,320.51 L127.85,320.50 L127.89,320.49 L127.89,320.49 L131.00,319.89 L134.12,319.58 L137.23,319.39 L140.35,319.27 L143.46,319.19 L146.58,319.13 L149.69,319.09 L152.81,319.06 L155.92,319.04 L159.04,319.02 L162.15,319.00 L165.27,318.99 L168.38,318.98 L171.50,318.97 L174.61,318.96 L177.73,318.96 L180.84,318.95 L183.96,318.95 L187.07,318.94 L190.18,318.94 L193.30,318.94 L196.41,318.93 L199.53,318.93 L202.64,318.93 L205.76,318.93 L208.87,318.93 L211.99,318.92 L215.10,318.92 L218.22,318.92 L221.33,318.92 L224.45,318.92 L227.56,318.92 L230.68,318.92 L233.79,318.92 L236.91,318.91 L240.02,318.91 L243.14,318.91 L246.25,318.91 L249.36,318.91 L252.48,318.91 L255.59,318.91 L258.71,318.91 L261.82,318.91 L264.94,318.91 L268.05,318.91 L271.17,318.91 L274.28,318.91 L277.40,318.91 L280.51,318.91 L283.63,318.91 L286.74,318.91 L289.86,318.91 L292.97,318.91 L296.09,318.91 L299.20,318.91 L302.32,318.91 L305.43,318.91 L308.55,318.91 L311.66,318.91" fill="none" stroke="#800000" stroke-width="2" stroke-linejoin="round"/>
</g>
<rect x="44.20" y="314.80" width="262.40" height="211.00" fill="none" stroke="#444" stroke-width="1.2" />
<line x1="44.40" y1="525.80" x2="44.40" y2="529.30" stroke="#444" stroke-width="1" />
<line x1="56.02" y1="525.80" x2="56.02" y2="527.60" stroke="#444" stroke-width="1" />
<line x1="67.64" y1="525.80" x2="67.64" y2="527.60" stroke="#444" stroke-width="1" />
<line x1="79.26" y1="525.80" x2="79.26" y2="527.60" stroke="#444" stroke-width="1" />
<line x1="90.88" y1="525.80" x2="90.88" y2="527.60" stroke="#444" stroke-width="1" />
<line x1="102.50" y1="525.80" x2="102.50" y2="529.30" stroke="#444" stroke-width="1" />
<line x1="114.12" y1="525.80" x2="114.12" y2="527.60" stroke="#444" stroke-width="1" />
<line x1="125.74" y1="525.80" x2="125.74" y2="527.60" stroke="#444" stroke-width="1" />
<line x1="137.36" y1="525.80" x2="137.36" y2="527.60" stroke="#444" stroke-width="1" />
<line x1="148.98" y1="525.80" x2="148.98" y2="527.60" stroke="#444" stroke-width="1" />
<line x1="160.60" y1="525.80" x2="160.60" y2="529.30" stroke="#444" stroke-width="1" />
<line x1="172.22" y1="525.80" x2="172.22" y2="527.60" stroke="#444" stroke-width="1" />
<line x1="183.84" y1="525.80" x2="183.84" y2="527.60" stroke="#444" stroke-width="1" />
<line x1="195.46" y1="525.80" x2="195.46" y2="527.60" stroke="#444" stroke-width="1" />
<line x1="207.08" y1="525.80" x2="207.08" y2="527.60" stroke="#444" stroke-width="1" />
<line x1="218.70" y1="525.80" x2="218.70" y2="529.30" stroke="#444" stroke-width="1" />
<line x1="230.32" y1="525.80" x2="230.32" y2="527.60" stroke="#444" stroke-width="1" />
<line x1="241.94" y1="525.80" x2="241.94" y2="527.60" stroke="#444" stroke-width="1" />
<line x1="253.56" y1="525.80" x2="253.56" y2="527.60" stroke="#444" stroke-width="1" />
<line x1="265.18" y1="525.80" x2="265.18" y2="527.60" stroke="#444" stroke-width="1" />
<line x1="276.80" y1="525.80" x2="276.80" y2="529.30" stroke="#444" stroke-width="1" />
<line x1="288.42" y1="525.80" x2="288.42" y2="527.60" stroke="#444" stroke-width="1" />
<line x1="300.04" y1="525.80" x2="300.04" y2="527.60" stroke="#444" stroke-width="1" />
<line x1="40.20" y1="524.40" x2="44.20" y2="524.40" stroke="#444" stroke-width="1" />
<line x1="42.20" y1="503.85" x2="44.20" y2="503.85" stroke="#444" stroke-width="1" />
<line x1="40.20" y1="483.30" x2="44.20" y2="483.30" stroke="#444" stroke-width="1" />
<line x1="42.20" y1="462.75" x2="44.20" y2="462.75" stroke="#444" stroke-width="1" />
<line x1="40.20" y1="442.20" x2="44.20" y2="442.20" stroke="#444" stroke-width="1" />
<line x1="42.20" y1="421.65" x2="44.20" y2="421.65" stroke="#444" stroke-width="1" />
<line x1="40.20" y1="401.10" x2="44.20" y2="401.10" stroke="#444" stroke-width="1" />
<line x1="42.20" y1="380.55" x2="44.20" y2="380.55" stroke="#444" stroke-width="1" />
<line x1="40.20" y1="360.00" x2="44.20" y2="360.00" stroke="#444" stroke-width="1" />
<line x1="42.20" y1="339.45" x2="44.20" y2="339.45" stroke="#444" stroke-width="1" />
<line x1="40.20" y1="318.90" x2="44.20" y2="318.90" stroke="#444" stroke-width="1" />
<text x="44.40" y="542.00" font-family='"Liberation Serif", serif' font-size="10" font-weight="normal" text-anchor="middle" fill="#000" stroke="#000" stroke-width="0.25" >41.7</text>
<text x="102.50" y="542.00" font-family='"Liberation Serif", serif' font-size="10" font-weight="normal" text-anchor="middle" fill="#000" stroke="#000" stroke-width="0.25" >41.8</text>
<text x="160.60" y="542.00" font-family='"Liberation Serif", serif' font-size="10" font-weight="normal" text-anchor="middle" fill="#000" stroke="#000" stroke-width="0.25" >41.9</text>
<text x="218.70" y="542.00" font-family='"Liberation Serif", serif' font-size="10" font-weight="normal" text-anchor="middle" fill="#000" stroke="#000" stroke-width="0.25" >42.0</text>
<text x="276.80" y="542.00" font-family='"Liberation Serif", serif' font-size="10" font-weight="normal" text-anchor="middle" fill="#000" stroke="#000" stroke-width="0.25" >42.1</text>
<text x="36.60" y="528.40" font-family='"Liberation Serif", serif' font-size="12" font-weight="normal" text-anchor="end" fill="#000" stroke="#000" stroke-width="0.25" >0.0</text>
<text x="36.60" y="487.30" font-family='"Liberation Serif", serif' font-size="12" font-weight="normal" text-anchor="end" fill="#000" stroke="#000" stroke-width="0.25" >0.2</text>
<text x="36.60" y="446.20" font-family='"Liberation Serif", serif' font-size="12" font-weight="normal" text-anchor="end" fill="#000" stroke="#000" stroke-width="0.25" >0.4</text>
<text x="36.60" y="405.10" font-family='"Liberation Serif", serif' font-size="12" font-weight="normal" text-anchor="end" fill="#000" stroke="#000" stroke-width="0.25" >0.6</text>
<text x="36.60" y="364.00" font-family='"Liberation Serif", serif' font-size="12" font-weight="normal" text-anchor="end" fill="#000" stroke="#000" stroke-width="0.25" >0.8</text>
<text x="36.60" y="322.90" font-family='"Liberation Serif", serif' font-size="12" font-weight="normal" text-anchor="end" fill="#000" stroke="#000" stroke-width="0.25" >1.0</text>
<text x="174.70" y="561.30" font-family='"Liberation Serif", serif' font-size="12.1" font-weight="normal" text-anchor="middle" fill="#000" stroke="#000" stroke-width="0.25" >Incidence Angle (Degree)</text>
<text x="0.00" y="0.00" font-family='"Liberation Serif", serif' font-size="12" font-weight="normal" text-anchor="middle" fill="#000" stroke="#000" stroke-width="0.25" transform="translate(8.7,416.4) rotate(-90)">Reflectance (a.u.)</text>
<text x="152.00" y="583.50" font-family='"Liberation Sans", sans-serif' font-size="12.7" font-weight="bold" text-anchor="middle" fill="#000" stroke="#000" stroke-width="0.25" >(c)</text>
<rect x="222.60" y="389.20" width="81.10" height="102.10" fill="#fff" stroke="#555" stroke-width="0.9" />
<line x1="223.60" y1="399.10" x2="252.50" y2="399.10" stroke="#000000" stroke-width="2" />
<text x="254.70" y="403.50" font-family='"Liberation Serif", serif' font-size="11.8" font-weight="normal" text-anchor="start" fill="#000" stroke="#000" stroke-width="0.25" >λ</text>
<text x="261.50" y="403.50" font-family='"Liberation Serif", serif' font-size="11.8" font-weight="normal" text-anchor="start" fill="#000" stroke="#000" stroke-width="0.25" >=626</text>
<line x1="223.60" y1="415.64" x2="252.50" y2="415.64" stroke="#ff0000" stroke-width="2" />
<text x="254.70" y="420.04" font-family='"Liberation Serif", serif' font-size="11.8" font-weight="normal" text-anchor="start" fill="#000" stroke="#000" stroke-width="0.25" >λ</text>
<text x="261.50" y="420.04" font-family='"Liberation Serif", serif' font-size="11.8" font-weight="normal" text-anchor="start" fill="#000" stroke="#000" stroke-width="0.25" >=628.4</text>
<line x1="223.60" y1="432.18" x2="252.50" y2="432.18" stroke="#0000ff" stroke-width="2" />
<text x="254.70" y="436.58" font-family='"Liberation Serif", serif' font-size="11.8" font-weight="normal" text-anchor="start" fill="#000" stroke="#000" stroke-width="0.25" >λ</text>
<text x="261.50" y="436.58" font-family='"Liberation Serif", serif' font-size="11.8" font-weight="normal" text-anchor="start" fill="#000" stroke="#000" stroke-width="0.25" >=631</text>
<line x1="223.60" y1="448.72" x2="252.50" y2="448.72" stroke="#00cc00" stroke-width="2" />
<text x="254.70" y="453.12" font-family='"Liberation Serif", serif' font-size="11.8" font-weight="normal" text-anchor="start" fill="#000" stroke="#000" stroke-width="0.25" >λ</text>
<text x="261.50" y="453.12" font-family='"Liberation Serif", serif' font-size="11.8" font-weight="normal" text-anchor="start" fill="#000" stroke="#000" stroke-width="0.25" >=632.8</text>
<line x1="223.60" y1="465.26" x2="252.50" y2="465.26" stroke="#9900cc" stroke-width="2" />
<text x="254.70" y="469.66" font-family='"Liberation Serif", serif' font-size="11.8" font-weight="normal" text-anchor="start" fill="#000" stroke="#000" stroke-width="0.25" >λ</text>
<text x="261.50" y="469.66" font-family='"Liberation Serif", serif' font-size="11.8" font-weight="normal" text-anchor="start" fill="#000" stroke="#000" stroke-width="0.25" >=635.67</text>
<line x1="223.60" y1="481.80" x2="252.50" y2="481.80" stroke="#800000" stroke-width="2" />
<text x="254.70" y="486.20" font-family='"Liberation Serif", serif' font-size="11.8" font-weight="normal" text-anchor="start" fill="#000" stroke="#000" stroke-width="0.25" >λ</text>
<text x="261.50" y="486.20" font-family='"Liberation Serif", serif' font-size="11.8" font-weight="normal" text-anchor="start" fill="#000" stroke="#000" stroke-width="0.25" >=637</text>
<rect x="430.30" y="327.30" width="212.40" height="203.70" fill="url(#gD)" stroke="none" stroke-width="1" />
<rect x="430.30" y="327.30" width="212.40" height="203.70" fill="none" stroke="#000" stroke-width="1" />
<line x1="437.75" y1="531.00" x2="437.75" y2="533.00" stroke="#000" stroke-width="1" />
<line x1="453.50" y1="531.00" x2="453.50" y2="534.50" stroke="#000" stroke-width="1" />
<line x1="469.25" y1="531.00" x2="469.25" y2="533.00" stroke="#000" stroke-width="1" />
<line x1="485.00" y1="531.00" x2="485.00" y2="534.50" stroke="#000" stroke-width="1" />
<line x1="500.75" y1="531.00" x2="500.75" y2="533.00" stroke="#000" stroke-width="1" />
<line x1="516.50" y1="531.00" x2="516.50" y2="534.50" stroke="#000" stroke-width="1" />
<line x1="532.25" y1="531.00" x2="532.25" y2="533.00" stroke="#000" stroke-width="1" />
<line x1="548.00" y1="531.00" x2="548.00" y2="534.50" stroke="#000" stroke-width="1" />
<line x1="563.75" y1="531.00" x2="563.75" y2="533.00" stroke="#000" stroke-width="1" />
<line x1="579.50" y1="531.00" x2="579.50" y2="534.50" stroke="#000" stroke-width="1" />
<line x1="595.25" y1="531.00" x2="595.25" y2="533.00" stroke="#000" stroke-width="1" />
<line x1="611.00" y1="531.00" x2="611.00" y2="534.50" stroke="#000" stroke-width="1" />
<line x1="626.75" y1="531.00" x2="626.75" y2="533.00" stroke="#000" stroke-width="1" />
<line x1="642.50" y1="531.00" x2="642.50" y2="534.50" stroke="#000" stroke-width="1" />
<line x1="428.30" y1="528.71" x2="430.30" y2="528.71" stroke="#000" stroke-width="1" />
<line x1="428.30" y1="520.84" x2="430.30" y2="520.84" stroke="#000" stroke-width="1" />
<line x1="428.30" y1="512.97" x2="430.30" y2="512.97" stroke="#000" stroke-width="1" />
<line x1="426.80" y1="505.10" x2="430.30" y2="505.10" stroke="#000" stroke-width="1" />
<line x1="428.30" y1="497.23" x2="430.30" y2="497.23" stroke="#000" stroke-width="1" />
<line x1="428.30" y1="489.36" x2="430.30" y2="489.36" stroke="#000" stroke-width="1" />
<line x1="428.30" y1="481.49" x2="430.30" y2="481.49" stroke="#000" stroke-width="1" />
<line x1="428.30" y1="473.62" x2="430.30" y2="473.62" stroke="#000" stroke-width="1" />
<line x1="426.80" y1="465.75" x2="430.30" y2="465.75" stroke="#000" stroke-width="1" />
<line x1="428.30" y1="457.88" x2="430.30" y2="457.88" stroke="#000" stroke-width="1" />
<line x1="428.30" y1="450.01" x2="430.30" y2="450.01" stroke="#000" stroke-width="1" />
<line x1="428.30" y1="442.14" x2="430.30" y2="442.14" stroke="#000" stroke-width="1" />
<line x1="428.30" y1="434.27" x2="430.30" y2="434.27" stroke="#000" stroke-width="1" />
<line x1="426.80" y1="426.40" x2="430.30" y2="426.40" stroke="#000" stroke-width="1" />
<line x1="428.30" y1="418.53" x2="430.30" y2="418.53" stroke="#000" stroke-width="1" />
<line x1="428.30" y1="410.66" x2="430.30" y2="410.66" stroke="#000" stroke-width="1" />
<line x1="428.30" y1="402.79" x2="430.30" y2="402.79" stroke="#000" stroke-width="1" />
<line x1="428.30" y1="394.92" x2="430.30" y2="394.92" stroke="#000" stroke-width="1" />
<line x1="426.80" y1="387.05" x2="430.30" y2="387.05" stroke="#000" stroke-width="1" />
<line x1="428.30" y1="379.18" x2="430.30" y2="379.18" stroke="#000" stroke-width="1" />
<line x1="428.30" y1="371.31" x2="430.30" y2="371.31" stroke="#000" stroke-width="1" />
<line x1="428.30" y1="363.44" x2="430.30" y2="363.44" stroke="#000" stroke-width="1" />
<line x1="428.30" y1="355.57" x2="430.30" y2="355.57" stroke="#000" stroke-width="1" />
<line x1="426.80" y1="347.70" x2="430.30" y2="347.70" stroke="#000" stroke-width="1" />
<line x1="428.30" y1="339.83" x2="430.30" y2="339.83" stroke="#000" stroke-width="1" />
<line x1="428.30" y1="331.96" x2="430.30" y2="331.96" stroke="#000" stroke-width="1" />
<text x="453.50" y="545.00" font-family='"Liberation Serif", serif' font-size="8.6" font-weight="normal" text-anchor="middle" fill="#000" stroke="#000" stroke-width="0.25" >632.65</text>
<text x="485.00" y="545.00" font-family='"Liberation Serif", serif' font-size="8.6" font-weight="normal" text-anchor="middle" fill="#000" stroke="#000" stroke-width="0.25" >632.70</text>
<text x="516.50" y="545.00" font-family='"Liberation Serif", serif' font-size="8.6" font-weight="normal" text-anchor="middle" fill="#000" stroke="#000" stroke-width="0.25" >632.75</text>
<text x="548.00" y="545.00" font-family='"Liberation Serif", serif' font-size="8.6" font-weight="normal" text-anchor="middle" fill="#000" stroke="#000" stroke-width="0.25" >632.80</text>
<text x="579.50" y="545.00" font-family='"Liberation Serif", serif' font-size="8.6" font-weight="normal" text-anchor="middle" fill="#000" stroke="#000" stroke-width="0.25" >632.85</text>
<text x="611.00" y="545.00" font-family='"Liberation Serif", serif' font-size="8.6" font-weight="normal" text-anchor="middle" fill="#000" stroke="#000" stroke-width="0.25" >632.90</text>
<text x="642.50" y="545.00" font-family='"Liberation Serif", serif' font-size="8.6" font-weight="normal" text-anchor="middle" fill="#000" stroke="#000" stroke-width="0.25" >632.95</text>
<text x="423.80" y="350.70" font-family='"Liberation Serif", serif' font-size="8.8" font-weight="normal" text-anchor="end" fill="#000" stroke="#000" stroke-width="0.25" >41.8650</text>
<text x="423.80" y="390.05" font-family='"Liberation Serif", serif' font-size="8.8" font-weight="normal" text-anchor="end" fill="#000" stroke="#000" stroke-width="0.25" >41.8648</text>
<text x="423.80" y="429.40" font-family='"Liberation Serif", serif' font-size="8.8" font-weight="normal" text-anchor="end" fill="#000" stroke="#000" stroke-width="0.25" >41.8646</text>
<text x="423.80" y="468.75" font-family='"Liberation Serif", serif' font-size="8.8" font-weight="normal" text-anchor="end" fill="#000" stroke="#000" stroke-width="0.25" >41.8644</text>
<text x="423.80" y="508.10" font-family='"Liberation Serif", serif' font-size="8.8" font-weight="normal" text-anchor="end" fill="#000" stroke="#000" stroke-width="0.25" >41.8642</text>
<text x="536.70" y="560.00" font-family='"Liberation Serif", serif' font-size="10.6" font-weight="normal" text-anchor="middle" fill="#000" stroke="#000" stroke-width="0.25" >Wavelength (nm)</text>
<text x="0.00" y="0.00" font-family='"Liberation Serif", serif' font-size="10.35" font-weight="normal" text-anchor="middle" fill="#000" stroke="#000" stroke-width="0.25" transform="translate(389.2,429) rotate(-90)">Incidence Angle (Degree)</text>
<text x="533.00" y="582.60" font-family='"Liberation Sans", sans-serif' font-size="12.7" font-weight="bold" text-anchor="middle" fill="#000" stroke="#000" stroke-width="0.25" >(d)</text>
<rect x="651.80" y="328.50" width="9.20" height="5.80" fill="#fff" stroke="none" stroke-width="1" />
<rect x="651.80" y="334.30" width="9.20" height="193.20" fill="url(#cbD)" stroke="none" stroke-width="1" />
<rect x="651.80" y="527.50" width="9.20" height="5.20" fill="#000" stroke="none" stroke-width="1" />
<rect x="651.80" y="328.50" width="9.20" height="204.20" fill="none" stroke="#000" stroke-width="0.8" />
<line x1="661.00" y1="334.30" x2="663.50" y2="334.30" stroke="#000" stroke-width="0.8" />
<text x="664.80" y="337.30" font-family='"Liberation Serif", serif' font-size="8.6" font-weight="normal" text-anchor="start" fill="#000" stroke="#000" stroke-width="0.25" >10.75</text>
<line x1="661.00" y1="366.50" x2="663.50" y2="366.50" stroke="#000" stroke-width="0.8" />
<text x="664.80" y="369.50" font-family='"Liberation Serif", serif' font-size="8.6" font-weight="normal" text-anchor="start" fill="#000" stroke="#000" stroke-width="0.25" >8.88</text>
<line x1="661.00" y1="398.70" x2="663.50" y2="398.70" stroke="#000" stroke-width="0.8" />
<text x="664.80" y="401.70" font-family='"Liberation Serif", serif' font-size="8.6" font-weight="normal" text-anchor="start" fill="#000" stroke="#000" stroke-width="0.25" >7.00</text>
<line x1="661.00" y1="430.90" x2="663.50" y2="430.90" stroke="#000" stroke-width="0.8" />
<text x="664.80" y="433.90" font-family='"Liberation Serif", serif' font-size="8.6" font-weight="normal" text-anchor="start" fill="#000" stroke="#000" stroke-width="0.25" >5.13</text>
<line x1="661.00" y1="463.10" x2="663.50" y2="463.10" stroke="#000" stroke-width="0.8" />
<text x="664.80" y="466.10" font-family='"Liberation Serif", serif' font-size="8.6" font-weight="normal" text-anchor="start" fill="#000" stroke="#000" stroke-width="0.25" >3.25</text>
<line x1="661.00" y1="495.30" x2="663.50" y2="495.30" stroke="#000" stroke-width="0.8" />
<text x="664.80" y="498.30" font-family='"Liberation Serif", serif' font-size="8.6" font-weight="normal" text-anchor="start" fill="#000" stroke="#000" stroke-width="0.25" >1.38</text>
<line x1="661.00" y1="527.50" x2="663.50" y2="527.50" stroke="#000" stroke-width="0.8" />
<text x="664.80" y="530.50" font-family='"Liberation Serif", serif' font-size="8.6" font-weight="normal" text-anchor="start" fill="#000" stroke="#000" stroke-width="0.25" >−0.50</text>
<text x="684.60" y="323.00" font-family='"Liberation Serif", serif' font-size="10.45" font-weight="normal" text-anchor="end" fill="#000" stroke="#000" stroke-width="0.25" >Normalized PSHE shift (δ/λ)</text></svg></body></html>
